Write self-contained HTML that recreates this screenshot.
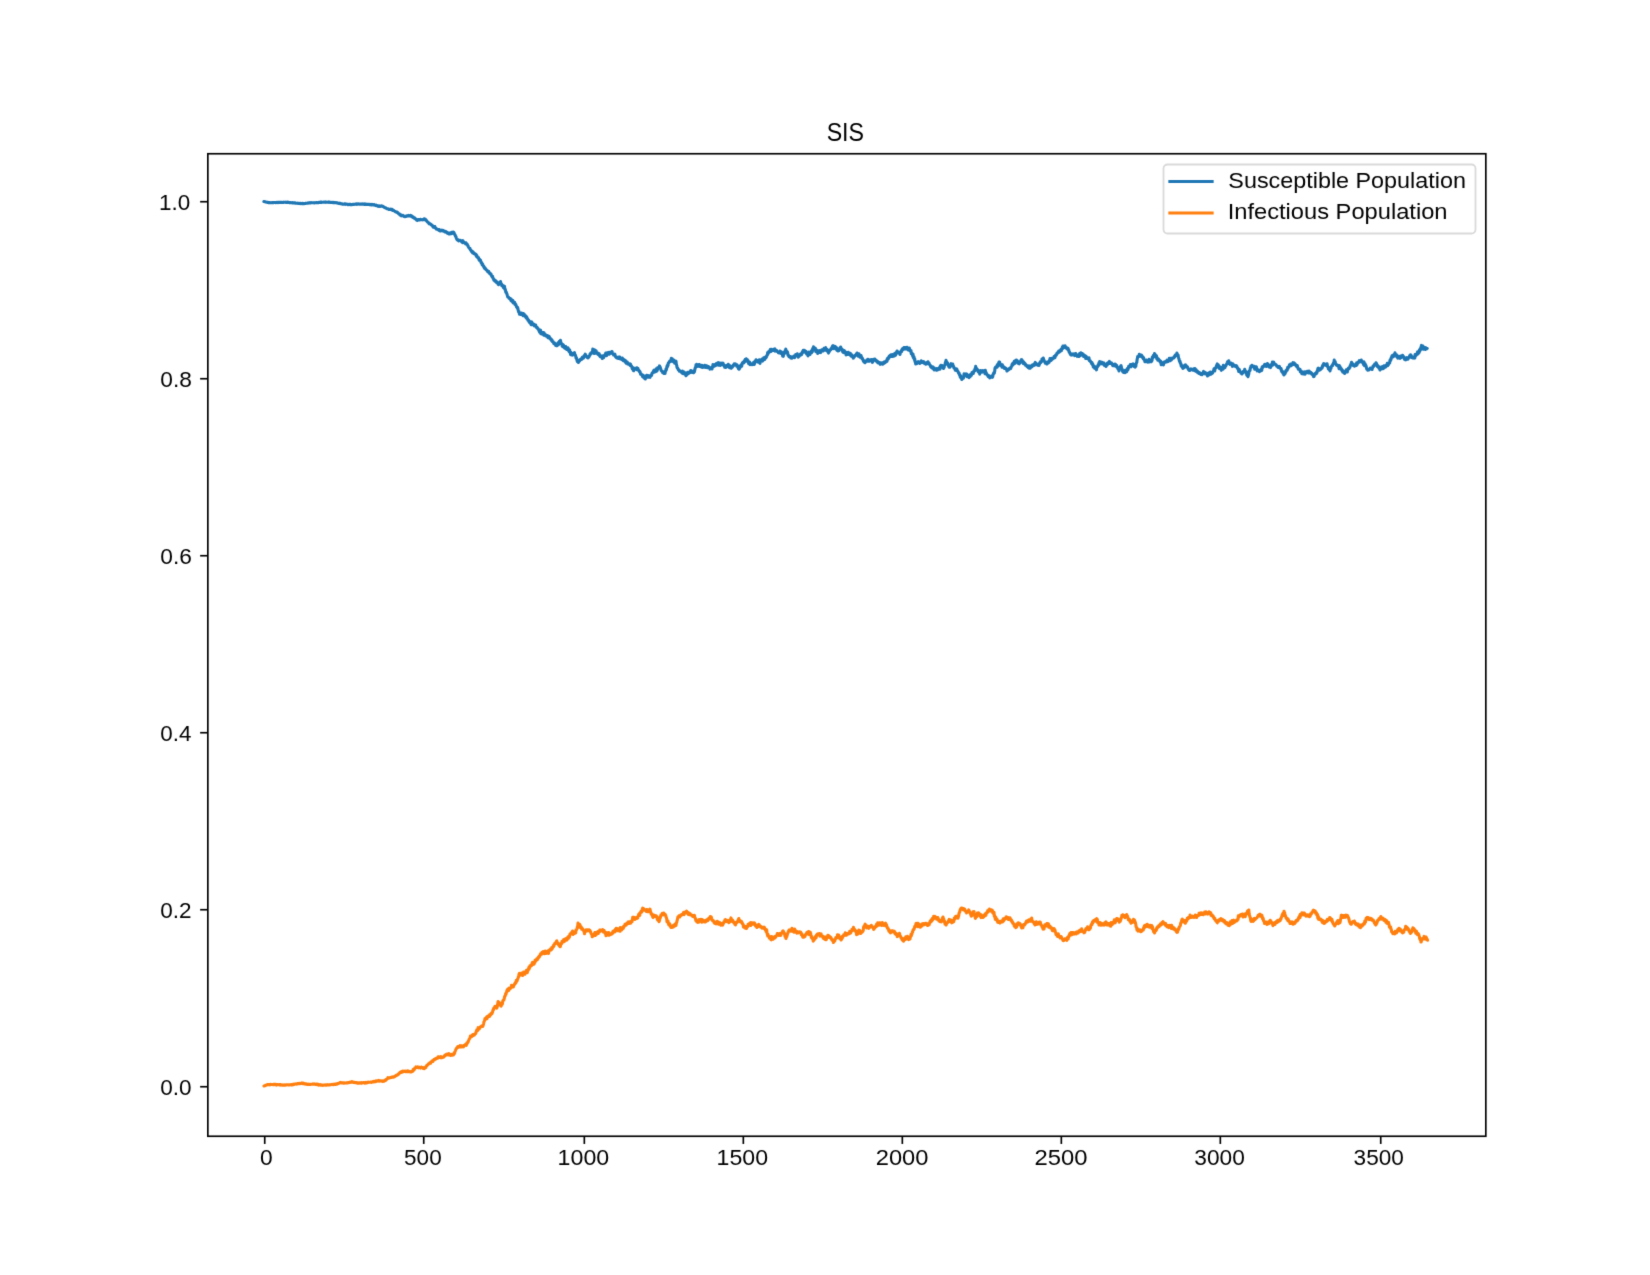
<!DOCTYPE html>
<html><head><meta charset="utf-8"><title>SIS</title>
<style>
html,body{margin:0;padding:0;background:#fff;width:1650px;height:1275px;overflow:hidden}
svg{display:block}
#wrap{will-change:transform;width:1650px;height:1275px}
text{font-family:"Liberation Sans",sans-serif;font-size:22.07px;fill:#000}
</style></head>
<body>
<div id="wrap"><svg width="1650" height="1275" viewBox="0 0 1650 1275">
<defs><filter id="soft" x="0" y="0" width="1650" height="1275" filterUnits="userSpaceOnUse"><feConvolveMatrix color-interpolation-filters="sRGB" order="3" kernelMatrix="0.01134 0.08382 0.01134 0.08382 0.61935 0.08382 0.01134 0.08382 0.01134" edgeMode="duplicate" preserveAlpha="true"/></filter></defs>
<g filter="url(#soft)">
<rect x="0" y="0" width="1650" height="1275" fill="#ffffff"/>
<polyline points="263.9,201.5 264.2,201.6 264.6,201.7 264.9,201.8 265.2,201.8 265.5,201.9 265.9,202.0 266.2,202.1 266.5,202.2 266.8,202.3 267.1,202.3 267.5,202.4 267.8,202.4 268.1,202.4 268.4,202.7 268.8,202.7 269.1,202.8 269.4,202.6 269.7,202.5 270.1,202.6 270.4,202.6 270.7,202.7 271.0,202.7 271.4,202.7 271.7,202.6 272.0,202.7 272.3,202.7 272.7,202.6 273.0,202.8 273.3,202.7 273.6,202.7 274.0,202.5 274.3,202.5 274.6,202.5 274.9,202.5 275.3,202.6 275.6,202.6 275.9,202.5 276.2,202.4 276.6,202.5 276.9,202.6 277.2,202.4 277.5,202.5 277.9,202.5 278.2,202.3 278.5,202.5 278.8,202.6 279.2,202.3 279.5,202.4 279.8,202.4 280.1,202.3 280.5,202.5 280.8,202.4 281.1,202.3 281.4,202.5 281.8,202.4 282.1,202.5 282.4,202.5 282.7,202.4 283.1,202.4 283.4,202.2 283.7,202.4 284.0,202.3 284.4,202.3 284.7,202.2 285.0,202.2 285.3,202.3 285.6,202.4 286.0,202.1 286.3,202.2 286.6,202.3 286.9,202.4 287.3,202.3 287.6,202.1 287.9,202.1 288.2,202.4 288.6,202.3 288.9,202.3 289.2,202.6 289.5,202.6 289.9,202.5 290.2,202.6 290.5,202.6 290.8,202.8 291.2,202.7 291.5,202.7 291.8,202.8 292.1,202.6 292.5,202.9 292.8,202.9 293.1,202.9 293.4,202.7 293.8,202.9 294.1,203.0 294.4,202.8 294.7,203.0 295.1,203.2 295.4,202.9 295.7,203.3 296.0,203.2 296.4,203.2 296.7,203.2 297.0,203.3 297.4,203.3 297.7,203.4 298.0,203.2 298.3,203.3 298.7,203.4 299.0,203.4 299.3,203.3 299.7,203.5 300.0,203.6 300.3,203.4 300.7,203.3 301.0,203.5 301.3,203.5 301.7,203.5 302.0,203.7 302.3,203.4 302.6,203.7 303.0,203.4 303.3,203.5 303.6,203.7 304.0,203.7 304.3,203.6 304.6,203.5 305.0,203.5 305.3,203.4 305.6,203.4 306.0,203.3 306.3,203.3 306.7,203.3 307.0,203.2 307.3,203.2 307.7,203.1 308.0,203.2 308.3,203.0 308.7,202.9 309.0,202.8 309.3,202.8 309.7,202.9 310.0,202.7 310.3,202.8 310.7,202.9 311.0,202.5 311.3,202.6 311.7,202.8 312.0,202.8 312.3,202.8 312.7,202.7 313.0,202.8 313.3,202.8 313.7,202.7 314.0,203.0 314.4,202.8 314.7,202.7 315.0,202.7 315.4,202.7 315.7,202.7 316.0,202.5 316.4,202.7 316.7,202.8 317.0,202.6 317.4,202.6 317.7,202.7 318.0,202.7 318.3,202.7 318.7,202.4 319.0,202.5 319.3,202.4 319.7,202.5 320.0,202.5 320.3,202.1 320.7,202.4 321.0,202.2 321.3,202.4 321.7,202.1 322.0,202.2 322.3,202.3 322.6,202.2 323.0,202.2 323.3,202.2 323.6,202.1 324.0,202.1 324.3,202.2 324.6,202.2 325.0,202.1 325.3,202.3 325.6,202.1 326.0,202.2 326.3,202.1 326.6,202.2 326.9,202.2 327.3,202.2 327.6,202.2 327.9,202.1 328.3,202.1 328.6,202.3 328.9,202.1 329.3,202.1 329.6,202.1 329.9,202.4 330.2,202.3 330.6,202.4 330.9,202.2 331.2,202.3 331.6,202.2 331.9,202.4 332.2,202.5 332.5,202.3 332.8,202.6 333.2,202.5 333.5,202.5 333.8,202.3 334.1,202.7 334.4,202.6 334.8,202.5 335.1,202.7 335.4,202.7 335.7,202.8 336.0,202.6 336.4,202.8 336.7,202.9 337.0,203.0 337.3,202.9 337.6,202.9 338.0,203.2 338.3,203.2 338.6,203.2 338.9,203.4 339.3,203.3 339.6,203.2 339.9,203.4 340.2,203.3 340.5,203.7 340.9,203.7 341.2,203.7 341.5,203.8 341.8,204.0 342.1,203.9 342.5,204.1 342.8,204.0 343.1,204.1 343.4,204.2 343.8,204.3 344.1,204.0 344.4,204.2 344.7,203.9 345.1,204.0 345.4,203.9 345.7,204.3 346.0,204.0 346.4,204.2 346.7,204.2 347.0,204.3 347.3,204.2 347.7,204.4 348.0,204.6 348.3,204.4 348.6,204.5 349.0,204.5 349.3,204.4 349.6,204.3 349.9,204.4 350.3,204.7 350.6,204.3 350.9,204.5 351.2,204.7 351.6,204.6 351.9,204.5 352.2,204.6 352.6,204.5 352.9,204.3 353.2,204.2 353.6,204.3 353.9,204.5 354.2,204.3 354.5,204.2 354.9,204.2 355.2,204.1 355.5,204.2 355.9,204.1 356.2,204.3 356.5,203.9 356.9,204.2 357.2,204.1 357.5,203.9 357.9,204.2 358.2,204.1 358.5,203.8 358.9,204.0 359.2,204.1 359.5,204.0 359.9,204.2 360.2,204.2 360.5,204.2 360.9,204.1 361.2,204.3 361.5,204.2 361.9,204.2 362.2,203.8 362.5,204.2 362.9,204.3 363.2,204.1 363.5,204.0 363.9,204.3 364.2,203.9 364.5,204.2 364.9,204.4 365.2,204.0 365.5,204.3 365.8,204.4 366.2,204.2 366.5,204.3 366.8,204.4 367.1,204.2 367.5,204.3 367.8,204.4 368.1,204.5 368.4,204.4 368.8,204.4 369.1,204.3 369.4,204.4 369.7,204.6 370.1,204.5 370.4,204.4 370.7,204.5 371.0,205.0 371.4,204.8 371.7,204.8 372.0,204.3 372.3,204.8 372.7,204.8 373.0,205.0 373.3,204.9 373.6,204.8 374.0,205.0 374.3,204.7 374.6,205.2 374.9,205.2 375.3,205.1 375.6,205.5 375.9,205.6 376.2,205.2 376.6,205.4 376.9,205.6 377.2,205.7 377.5,205.7 377.9,205.7 378.2,206.3 378.5,206.1 378.8,205.8 379.2,205.8 379.5,206.3 379.8,206.2 380.1,206.4 380.5,206.3 380.8,206.0 381.1,206.2 381.4,205.9 381.8,206.1 382.1,206.3 382.4,206.4 382.7,206.2 383.1,206.5 383.4,206.8 383.7,207.0 384.0,207.2 384.4,207.3 384.7,207.4 385.0,207.7 385.3,207.8 385.6,207.8 386.0,208.0 386.3,208.3 386.6,208.4 386.9,208.7 387.3,208.8 387.6,208.9 387.9,208.9 388.2,208.8 388.6,209.2 388.9,209.4 389.2,209.3 389.5,209.2 389.9,209.4 390.2,209.2 390.5,209.1 390.8,209.5 391.2,209.4 391.5,209.8 391.8,209.5 392.1,209.3 392.5,209.8 392.8,210.5 393.1,210.2 393.4,210.2 393.8,210.5 394.1,210.9 394.4,211.0 394.7,211.1 395.1,211.6 395.4,211.5 395.7,211.5 396.0,211.8 396.4,212.2 396.7,212.3 397.0,212.5 397.3,212.2 397.7,212.7 398.0,213.1 398.3,213.1 398.6,213.7 399.0,213.8 399.3,214.1 399.6,214.0 399.9,215.0 400.3,214.9 400.6,214.7 400.9,215.0 401.2,215.8 401.6,215.2 401.9,215.6 402.2,215.8 402.6,215.6 402.9,215.4 403.2,215.9 403.6,216.1 403.9,216.4 404.2,216.5 404.5,216.4 404.9,216.6 405.2,216.4 405.5,216.3 405.8,216.2 406.2,216.1 406.5,216.3 406.8,215.8 407.1,215.9 407.4,216.0 407.8,215.6 408.1,215.8 408.4,215.4 408.7,215.7 409.1,216.0 409.4,216.0 409.7,215.8 410.0,215.7 410.3,215.3 410.7,216.2 411.0,216.0 411.3,216.4 411.7,216.1 412.0,216.5 412.3,216.3 412.7,217.3 413.0,217.5 413.3,217.0 413.7,217.7 414.0,218.1 414.3,217.7 414.6,217.9 415.0,218.3 415.3,218.7 415.6,218.7 416.0,219.4 416.3,219.6 416.6,220.0 417.0,220.2 417.3,220.5 417.6,220.3 418.0,219.6 418.3,219.8 418.6,219.6 418.9,219.6 419.3,219.9 419.6,219.9 419.9,220.0 420.3,219.4 420.6,219.4 420.9,219.8 421.3,219.7 421.6,219.7 421.9,219.7 422.2,219.5 422.6,219.9 422.9,219.8 423.2,219.6 423.6,219.4 423.9,219.6 424.2,218.8 424.6,219.3 424.9,219.6 425.2,219.1 425.5,219.9 425.9,220.2 426.2,220.1 426.5,220.8 426.8,221.1 427.2,221.6 427.5,222.0 427.8,222.1 428.1,222.2 428.4,222.7 428.8,223.1 429.1,223.7 429.4,223.7 429.8,223.6 430.1,223.7 430.4,224.2 430.8,224.3 431.1,224.4 431.4,225.0 431.8,225.1 432.1,225.5 432.4,225.9 432.8,225.8 433.1,227.0 433.4,226.3 433.8,227.0 434.1,226.9 434.4,227.5 434.8,226.5 435.1,227.3 435.4,227.8 435.8,228.2 436.1,229.0 436.4,228.5 436.8,229.1 437.1,229.2 437.5,229.5 437.8,229.5 438.1,229.5 438.5,230.0 438.8,229.6 439.1,230.5 439.4,229.7 439.8,230.2 440.1,231.0 440.4,230.2 440.7,230.3 441.1,230.8 441.4,230.4 441.7,230.1 442.0,230.6 442.3,230.7 442.7,230.8 443.0,230.3 443.3,231.3 443.6,231.3 444.0,230.9 444.3,231.1 444.6,231.1 444.9,231.9 445.3,231.3 445.6,232.0 445.9,231.7 446.2,231.8 446.5,232.5 446.9,232.9 447.2,232.6 447.5,232.5 447.8,233.3 448.2,233.1 448.5,233.4 448.8,233.9 449.2,233.7 449.5,233.0 449.8,234.0 450.2,233.1 450.5,233.4 450.8,232.8 451.2,233.0 451.5,232.3 451.8,233.6 452.2,233.4 452.5,232.3 452.8,232.2 453.2,232.1 453.5,233.1 453.8,232.5 454.2,233.3 454.5,234.0 454.8,234.8 455.2,235.1 455.5,236.3 455.9,236.4 456.2,237.7 456.5,238.6 456.9,239.4 457.2,239.8 457.5,239.6 457.9,240.1 458.2,239.9 458.5,240.9 458.8,240.6 459.2,240.3 459.5,240.3 459.8,240.2 460.1,240.2 460.4,240.5 460.8,240.9 461.1,241.1 461.4,241.2 461.7,241.9 462.1,240.8 462.4,241.3 462.7,242.7 463.0,240.9 463.4,241.7 463.7,242.2 464.0,242.4 464.3,242.7 464.6,242.7 465.0,243.2 465.3,243.2 465.6,243.8 465.9,242.8 466.3,243.5 466.6,244.1 466.9,243.8 467.2,244.3 467.6,245.6 467.9,245.5 468.3,246.6 468.6,247.2 468.9,247.5 469.3,248.2 469.6,248.4 469.9,248.3 470.3,249.5 470.6,250.2 470.9,250.3 471.3,251.0 471.6,251.7 472.0,251.1 472.3,252.1 472.6,252.9 473.0,252.0 473.3,252.6 473.6,252.7 474.0,253.7 474.3,253.4 474.7,253.9 475.0,253.6 475.3,254.3 475.6,254.7 476.0,254.3 476.3,256.3 476.6,256.4 476.9,255.5 477.3,257.2 477.6,257.2 477.9,257.9 478.2,258.2 478.5,257.7 478.9,258.8 479.2,260.1 479.5,259.4 479.8,259.6 480.2,259.9 480.5,260.3 480.8,261.6 481.1,262.7 481.5,262.4 481.8,263.0 482.1,264.7 482.4,263.9 482.7,264.4 483.1,265.7 483.4,266.4 483.7,266.2 484.0,266.8 484.4,268.2 484.7,268.5 485.0,267.9 485.4,268.8 485.7,268.9 486.0,269.8 486.4,269.8 486.7,270.1 487.0,270.3 487.4,271.3 487.7,271.8 488.0,271.2 488.4,272.1 488.7,271.5 489.0,272.3 489.4,273.0 489.7,273.7 490.0,273.2 490.3,273.9 490.7,274.5 491.0,274.1 491.3,275.5 491.6,275.6 492.0,276.7 492.3,276.4 492.6,276.4 492.9,278.1 493.3,278.7 493.6,278.8 493.9,280.1 494.2,280.0 494.5,280.3 494.9,281.1 495.2,280.2 495.6,280.9 495.9,281.5 496.2,282.3 496.6,281.9 496.9,282.4 497.2,282.0 497.6,282.8 497.9,283.9 498.2,282.7 498.6,284.7 498.9,283.2 499.2,283.4 499.6,283.3 499.9,283.7 500.2,282.2 500.5,281.5 500.8,282.9 501.2,283.6 501.5,284.0 501.8,285.7 502.2,284.8 502.5,285.3 502.8,286.3 503.2,286.4 503.5,287.7 503.8,286.5 504.2,287.5 504.5,286.2 504.8,289.3 505.2,289.1 505.5,290.4 505.8,292.2 506.1,291.9 506.5,292.8 506.8,293.7 507.1,294.6 507.4,295.7 507.8,296.9 508.1,296.8 508.4,297.2 508.8,297.4 509.1,298.4 509.4,298.5 509.8,298.4 510.1,299.3 510.4,299.1 510.8,298.8 511.1,300.8 511.5,300.5 511.8,299.9 512.1,301.5 512.4,301.4 512.8,300.5 513.1,302.9 513.4,302.4 513.7,303.0 514.1,302.9 514.4,303.0 514.7,302.4 515.0,304.4 515.3,304.1 515.7,304.2 516.0,305.4 516.3,305.9 516.6,307.0 517.0,307.1 517.3,308.0 517.6,307.3 517.9,309.2 518.3,310.7 518.6,311.9 518.9,311.4 519.2,312.3 519.5,314.2 519.9,313.0 520.2,313.8 520.5,314.5 520.8,313.5 521.2,314.4 521.5,313.1 521.8,313.8 522.1,313.7 522.5,313.9 522.8,314.7 523.1,315.7 523.4,313.6 523.7,314.1 524.1,315.2 524.4,314.5 524.7,316.0 525.0,316.4 525.4,316.2 525.7,317.2 526.0,316.1 526.3,318.1 526.7,316.9 527.0,317.9 527.3,318.4 527.6,318.8 527.9,320.1 528.3,320.0 528.6,320.0 528.9,321.1 529.2,322.2 529.6,321.5 529.9,322.2 530.2,323.2 530.5,322.8 530.9,321.9 531.2,324.8 531.5,324.8 531.8,322.0 532.2,323.7 532.5,324.2 532.8,324.8 533.1,324.9 533.4,324.4 533.8,324.1 534.1,325.1 534.4,326.0 534.7,324.7 535.1,325.0 535.4,326.1 535.7,325.0 536.0,326.6 536.4,326.9 536.7,327.9 537.0,327.4 537.3,327.6 537.6,328.3 538.0,329.0 538.3,328.9 538.6,329.7 538.9,330.6 539.3,331.3 539.6,332.1 539.9,330.6 540.2,331.3 540.6,330.1 540.9,333.8 541.2,332.2 541.5,333.1 541.8,333.9 542.2,332.6 542.5,334.1 542.8,333.8 543.1,332.6 543.5,334.3 543.8,335.1 544.1,332.9 544.4,335.1 544.8,334.7 545.1,335.1 545.4,335.1 545.7,335.9 546.1,335.0 546.4,336.0 546.7,335.3 547.0,336.4 547.3,335.5 547.7,336.2 548.0,337.8 548.3,337.1 548.6,336.9 549.0,336.3 549.3,336.8 549.6,337.8 549.9,338.6 550.3,338.4 550.6,338.7 550.9,338.8 551.2,340.3 551.5,339.5 551.9,339.9 552.2,341.4 552.5,341.3 552.8,341.5 553.2,341.8 553.5,342.5 553.8,343.5 554.1,343.6 554.5,342.8 554.8,344.3 555.1,344.4 555.4,343.9 555.7,345.5 556.1,345.1 556.4,345.4 556.7,345.8 557.1,345.7 557.4,343.8 557.8,344.2 558.1,342.8 558.4,344.7 558.8,342.2 559.1,343.0 559.4,341.2 559.8,341.9 560.1,343.4 560.5,340.3 560.8,342.4 561.1,343.6 561.5,343.6 561.8,343.7 562.2,346.3 562.5,345.2 562.8,344.4 563.2,346.7 563.5,345.0 563.8,347.4 564.2,346.3 564.5,347.1 564.8,348.2 565.1,347.5 565.4,346.6 565.8,346.6 566.1,349.0 566.4,348.9 566.7,348.0 567.1,349.5 567.4,349.4 567.7,349.7 568.0,347.8 568.4,349.7 568.7,351.0 569.0,351.2 569.3,351.8 569.6,349.7 570.0,352.0 570.3,352.7 570.6,354.6 570.9,352.4 571.3,353.3 571.6,354.0 571.9,355.0 572.2,353.9 572.6,355.1 572.9,353.6 573.2,354.3 573.5,353.7 573.8,354.1 574.2,353.4 574.5,352.7 574.8,354.7 575.1,355.0 575.5,355.3 575.8,356.7 576.1,358.3 576.4,357.7 576.8,359.3 577.1,360.7 577.4,361.6 577.7,361.8 578.1,360.3 578.4,362.5 578.7,361.6 579.0,361.1 579.3,360.7 579.7,360.8 580.0,360.1 580.3,359.4 580.6,359.4 581.0,359.2 581.3,359.0 581.6,358.3 581.9,359.3 582.3,357.4 582.6,358.5 583.0,356.9 583.3,357.5 583.6,357.9 584.0,356.6 584.3,355.5 584.7,355.7 585.0,355.4 585.3,354.2 585.7,355.3 586.0,356.2 586.4,355.9 586.7,356.6 587.0,357.3 587.4,357.6 587.7,357.9 588.1,357.9 588.4,357.5 588.7,357.2 589.1,356.5 589.4,355.9 589.7,355.5 590.1,353.8 590.4,354.3 590.7,354.1 591.1,352.8 591.4,353.0 591.8,352.9 592.1,351.9 592.4,353.0 592.8,349.0 593.1,350.9 593.4,349.9 593.8,352.1 594.1,353.5 594.4,349.8 594.8,351.9 595.1,352.4 595.4,351.9 595.8,352.7 596.1,350.7 596.4,353.2 596.8,353.0 597.1,352.9 597.5,352.9 597.8,354.2 598.2,353.8 598.5,354.7 598.9,354.6 599.2,353.7 599.5,355.8 599.9,356.1 600.2,356.6 600.6,355.6 600.9,356.3 601.2,357.0 601.6,356.8 601.9,357.7 602.3,358.4 602.6,356.4 602.9,355.8 603.3,357.6 603.6,357.7 603.9,357.0 604.2,356.6 604.6,355.2 604.9,354.8 605.2,355.6 605.5,354.0 605.8,353.0 606.2,353.3 606.5,355.6 606.8,354.8 607.1,352.8 607.5,352.8 607.8,353.4 608.1,352.7 608.4,354.2 608.8,353.1 609.1,352.3 609.4,354.1 609.7,352.6 610.1,353.2 610.4,353.0 610.7,352.7 611.0,353.2 611.3,352.4 611.7,351.5 612.0,351.5 612.3,352.5 612.6,353.2 613.0,354.0 613.3,354.4 613.6,355.0 613.9,355.0 614.3,354.6 614.6,355.0 614.9,354.2 615.2,356.0 615.5,356.7 615.9,357.1 616.2,356.9 616.5,357.1 616.8,358.0 617.2,357.3 617.5,357.9 617.8,357.8 618.1,357.6 618.5,358.5 618.8,357.1 619.1,357.3 619.4,357.0 619.7,357.0 620.1,358.9 620.4,359.0 620.7,358.0 621.0,358.6 621.4,359.3 621.7,359.2 622.0,359.7 622.3,358.1 622.7,358.8 623.0,359.8 623.3,360.7 623.6,360.0 623.9,359.5 624.3,360.0 624.6,360.0 624.9,360.1 625.2,362.1 625.6,360.7 625.9,361.4 626.2,363.2 626.5,362.7 626.9,362.3 627.2,361.9 627.5,362.9 627.8,364.0 628.2,363.5 628.5,364.2 628.8,363.6 629.1,364.2 629.4,363.9 629.8,364.6 630.1,365.5 630.4,363.9 630.7,365.4 631.1,366.0 631.4,365.9 631.7,366.5 632.0,367.8 632.4,369.1 632.7,368.5 633.0,368.8 633.3,367.8 633.6,370.8 634.0,369.9 634.3,369.7 634.6,368.7 634.9,369.3 635.3,368.4 635.6,369.1 635.9,369.2 636.2,368.7 636.6,368.8 636.9,367.8 637.2,369.9 637.6,368.8 637.9,368.3 638.2,370.0 638.6,370.0 638.9,370.3 639.3,371.2 639.6,372.1 639.9,371.4 640.3,372.7 640.6,374.3 641.0,374.2 641.3,374.1 641.6,374.8 642.0,375.1 642.3,375.6 642.6,376.7 643.0,376.6 643.3,375.3 643.7,377.6 644.0,376.9 644.3,378.0 644.6,377.0 645.0,377.5 645.3,379.0 645.6,376.5 645.9,376.4 646.3,376.1 646.6,375.3 646.9,375.7 647.2,377.3 647.5,376.5 647.9,375.5 648.2,375.7 648.5,377.3 648.8,376.2 649.2,376.4 649.5,376.9 649.8,377.2 650.1,377.3 650.5,376.2 650.8,375.1 651.1,374.8 651.4,375.6 651.7,374.9 652.1,373.2 652.4,373.3 652.7,372.8 653.0,372.2 653.4,371.4 653.7,370.6 654.0,371.1 654.3,370.1 654.7,372.1 655.0,371.4 655.3,369.9 655.6,371.7 655.9,371.2 656.3,368.9 656.6,371.3 656.9,370.1 657.2,370.6 657.6,367.7 657.9,368.6 658.2,368.1 658.5,367.5 658.9,367.0 659.2,367.2 659.5,365.9 659.8,366.7 660.2,367.2 660.5,368.4 660.8,369.0 661.1,370.3 661.4,370.8 661.8,371.2 662.1,371.3 662.4,371.5 662.7,372.7 663.1,372.6 663.4,372.2 663.7,371.9 664.0,373.4 664.4,371.9 664.7,372.9 665.0,373.4 665.3,371.4 665.7,371.4 666.0,369.0 666.3,369.8 666.7,368.3 667.0,366.1 667.3,366.9 667.7,364.8 668.0,365.6 668.3,363.2 668.7,362.8 669.0,362.2 669.3,361.5 669.7,361.8 670.0,360.9 670.3,361.6 670.7,360.9 671.0,360.8 671.3,358.4 671.7,361.1 672.0,360.0 672.3,358.8 672.7,360.4 673.0,360.9 673.3,361.5 673.7,360.0 674.0,362.2 674.3,361.0 674.7,363.1 675.0,361.4 675.3,362.2 675.7,361.6 676.0,361.2 676.3,364.2 676.7,365.3 677.0,367.2 677.3,368.0 677.7,368.2 678.0,368.8 678.3,369.7 678.7,369.8 679.0,369.9 679.3,371.1 679.7,371.1 680.0,370.8 680.3,371.3 680.7,371.2 681.0,371.7 681.3,372.2 681.7,372.6 682.0,371.5 682.3,371.1 682.7,373.5 683.0,372.7 683.3,373.7 683.7,371.8 684.0,373.0 684.3,373.5 684.7,372.6 685.0,373.5 685.3,374.6 685.7,375.1 686.0,375.7 686.3,373.6 686.7,373.0 687.0,374.3 687.3,374.4 687.7,373.6 688.0,372.3 688.3,373.6 688.7,373.4 689.0,373.0 689.3,372.1 689.7,372.4 690.0,372.6 690.3,371.5 690.7,370.5 691.0,372.1 691.3,372.2 691.7,371.8 692.0,372.4 692.3,371.3 692.7,371.6 693.0,371.4 693.3,372.0 693.7,372.7 694.0,371.3 694.3,372.0 694.7,370.5 695.0,368.8 695.3,367.6 695.7,367.4 696.0,364.9 696.3,365.0 696.7,364.3 697.0,365.6 697.3,366.3 697.7,365.7 698.0,365.7 698.3,365.3 698.7,365.7 699.0,364.5 699.3,366.5 699.7,365.4 700.0,365.0 700.3,365.3 700.7,365.3 701.0,366.6 701.3,367.0 701.7,365.3 702.0,367.2 702.3,367.3 702.7,366.4 703.0,365.9 703.3,366.4 703.7,366.4 704.0,367.1 704.3,366.6 704.7,365.3 705.0,366.9 705.3,365.6 705.7,367.3 706.0,365.7 706.3,366.1 706.7,365.9 707.0,366.1 707.3,367.7 707.7,367.6 708.0,367.7 708.3,367.7 708.7,366.6 709.0,367.6 709.3,367.8 709.7,367.8 710.0,369.1 710.3,368.4 710.7,368.7 711.0,368.7 711.3,367.5 711.7,368.9 712.0,369.0 712.3,367.6 712.7,366.3 713.0,364.5 713.3,366.1 713.7,366.4 714.0,365.2 714.3,365.6 714.7,366.0 715.0,365.7 715.3,364.4 715.7,365.5 716.0,365.2 716.3,363.5 716.7,364.3 717.0,363.4 717.3,364.4 717.7,364.8 718.0,363.5 718.3,362.7 718.7,365.2 719.0,364.4 719.3,365.2 719.7,363.1 720.0,364.8 720.3,365.4 720.7,365.2 721.0,363.3 721.3,363.5 721.7,363.1 722.0,363.7 722.3,364.2 722.7,363.8 723.0,363.1 723.3,365.1 723.7,364.6 724.0,365.8 724.3,365.9 724.7,367.3 725.0,367.4 725.3,366.0 725.7,366.5 726.0,367.4 726.3,365.6 726.7,366.2 727.0,366.6 727.3,366.6 727.7,365.9 728.0,364.4 728.3,364.3 728.7,365.3 729.0,365.3 729.3,367.5 729.7,365.5 730.0,367.6 730.3,367.9 730.7,366.7 731.0,367.9 731.3,368.2 731.7,367.3 732.0,367.1 732.3,367.2 732.7,365.8 733.0,366.3 733.3,365.1 733.7,364.8 734.0,365.2 734.3,363.9 734.7,364.1 735.0,364.7 735.3,363.9 735.7,364.1 736.0,365.2 736.3,364.7 736.7,366.2 737.0,364.8 737.3,366.6 737.7,366.1 738.0,366.3 738.3,368.6 738.7,367.0 739.0,369.3 739.3,368.0 739.7,368.2 740.0,365.9 740.3,367.1 740.7,366.8 741.0,365.2 741.3,364.7 741.7,366.2 742.0,364.0 742.3,363.1 742.7,362.5 743.0,362.8 743.3,362.4 743.7,362.0 744.0,362.8 744.3,360.9 744.7,361.2 745.0,361.6 745.3,359.4 745.7,360.6 746.0,360.9 746.3,358.9 746.7,359.4 747.0,359.8 747.3,359.6 747.7,361.7 748.0,360.4 748.3,362.5 748.7,363.6 749.0,361.7 749.3,363.0 749.7,362.2 750.0,364.6 750.3,363.5 750.7,363.9 751.0,364.2 751.3,364.6 751.7,364.0 752.0,364.3 752.3,364.0 752.7,364.5 753.0,363.6 753.3,364.2 753.7,362.3 754.0,363.0 754.3,364.4 754.7,362.6 755.0,361.2 755.3,362.0 755.7,360.7 756.0,359.8 756.3,360.5 756.7,361.6 757.0,361.4 757.3,361.1 757.7,360.5 758.0,360.4 758.3,362.3 758.7,361.5 759.0,360.7 759.3,359.8 759.7,360.4 760.0,363.4 760.3,360.4 760.7,361.0 761.0,361.0 761.3,360.5 761.7,360.2 762.0,359.2 762.3,359.3 762.7,361.1 763.0,359.1 763.3,360.1 763.7,357.9 764.0,358.8 764.3,358.9 764.7,359.3 765.0,357.4 765.3,358.4 765.7,358.0 766.0,356.9 766.3,357.3 766.7,355.7 767.0,355.2 767.3,355.2 767.7,352.5 768.0,353.9 768.3,352.7 768.7,351.7 769.0,351.9 769.3,352.2 769.7,350.8 770.0,351.4 770.3,349.5 770.7,349.3 771.0,351.4 771.3,350.5 771.7,350.8 772.0,349.4 772.3,350.5 772.7,350.0 773.0,350.2 773.3,349.7 773.7,350.5 774.0,349.0 774.3,349.0 774.7,348.9 775.0,351.1 775.3,349.9 775.7,350.0 776.0,350.3 776.3,350.9 776.7,350.5 777.0,351.5 777.3,351.5 777.7,351.8 778.0,351.8 778.3,352.6 778.7,352.2 779.0,352.7 779.3,352.9 779.7,353.0 780.0,351.1 780.3,352.4 780.7,352.2 781.0,353.5 781.3,351.7 781.7,352.4 782.0,352.8 782.3,353.9 782.7,356.1 783.0,356.2 783.3,356.3 783.6,353.7 783.9,352.5 784.2,353.9 784.6,352.5 784.9,351.6 785.2,350.5 785.5,349.9 785.8,349.2 786.1,351.5 786.5,351.0 786.8,352.8 787.1,352.7 787.4,351.8 787.7,353.0 788.0,355.4 788.4,355.1 788.7,355.6 789.0,356.7 789.3,356.2 789.7,356.2 790.0,356.7 790.3,356.8 790.7,357.8 791.0,356.8 791.3,358.2 791.7,358.2 792.0,358.2 792.3,357.7 792.7,357.1 793.0,357.1 793.3,356.8 793.7,356.2 794.0,356.6 794.3,356.0 794.7,357.6 795.0,356.7 795.3,355.8 795.7,354.6 796.0,355.8 796.3,355.4 796.7,354.8 797.0,354.6 797.3,353.8 797.7,355.8 798.0,355.3 798.3,357.2 798.7,355.2 799.0,355.1 799.3,356.2 799.7,355.2 800.0,355.1 800.3,354.3 800.7,353.8 801.0,355.0 801.3,354.3 801.7,354.4 802.0,352.5 802.3,352.4 802.7,351.3 803.0,352.4 803.3,350.2 803.7,351.3 804.0,351.3 804.3,351.9 804.7,350.4 805.0,352.2 805.3,351.1 805.7,351.4 806.0,351.3 806.3,353.4 806.7,354.1 807.0,352.7 807.3,352.8 807.7,353.5 808.0,355.9 808.3,354.6 808.7,353.3 809.0,352.2 809.3,352.8 809.7,354.1 810.0,354.4 810.3,352.6 810.7,352.1 811.0,352.1 811.3,350.9 811.7,352.8 812.0,351.2 812.3,351.9 812.6,348.9 812.9,348.3 813.2,348.6 813.5,346.9 813.8,348.5 814.1,348.3 814.5,347.8 814.8,349.5 815.1,350.1 815.4,348.4 815.8,351.6 816.1,351.0 816.4,351.6 816.7,350.0 817.0,351.3 817.4,352.0 817.7,353.4 818.0,351.9 818.3,352.1 818.7,351.1 819.0,352.2 819.3,352.4 819.7,350.7 820.0,351.3 820.3,351.9 820.7,352.5 821.0,351.6 821.3,350.7 821.7,349.8 822.0,349.8 822.3,349.8 822.7,350.2 823.0,349.8 823.3,350.9 823.7,349.6 824.0,348.4 824.3,350.1 824.7,349.4 825.0,348.6 825.3,348.3 825.6,347.7 826.0,348.7 826.3,350.5 826.6,349.5 826.9,349.4 827.2,350.9 827.5,351.2 827.9,351.8 828.2,352.2 828.5,353.1 828.8,350.9 829.1,351.9 829.5,350.0 829.8,350.8 830.1,350.0 830.4,349.6 830.8,349.7 831.1,348.6 831.4,349.0 831.7,348.4 832.0,347.4 832.4,346.4 832.7,345.9 833.0,345.6 833.3,346.0 833.7,346.3 834.0,348.7 834.3,347.1 834.7,347.4 835.0,346.4 835.3,346.6 835.7,347.1 836.0,347.6 836.3,347.3 836.7,349.9 837.0,348.8 837.3,350.6 837.7,348.7 838.0,351.0 838.3,350.9 838.7,350.6 839.0,350.6 839.3,350.1 839.7,349.7 840.0,347.9 840.3,348.5 840.7,347.0 841.0,349.0 841.3,349.1 841.7,349.1 842.0,349.1 842.3,349.6 842.7,351.8 843.0,352.1 843.3,351.2 843.7,352.6 844.0,350.8 844.3,350.6 844.7,351.8 845.0,351.6 845.3,352.0 845.7,352.6 846.0,354.9 846.3,352.2 846.7,352.8 847.0,353.1 847.3,353.0 847.7,353.8 848.0,354.5 848.3,352.4 848.7,353.5 849.0,353.3 849.3,354.1 849.7,353.1 850.0,353.3 850.3,353.3 850.7,355.8 851.0,355.9 851.3,356.2 851.7,354.7 852.0,356.6 852.3,356.7 852.7,356.6 853.0,357.3 853.3,358.1 853.7,357.7 854.0,356.9 854.3,356.9 854.7,355.7 855.0,355.8 855.3,355.4 855.7,355.4 856.0,354.6 856.3,354.1 856.7,353.8 857.0,353.0 857.3,355.4 857.7,354.4 858.0,354.6 858.3,356.2 858.7,355.8 859.0,353.8 859.3,355.8 859.7,356.1 860.0,357.2 860.3,357.0 860.7,356.8 861.0,355.6 861.3,356.5 861.7,357.9 862.0,358.7 862.3,358.2 862.7,359.3 863.0,359.9 863.3,360.8 863.7,361.6 864.0,361.8 864.3,360.9 864.7,362.6 865.0,362.7 865.3,361.3 865.7,361.9 866.0,361.3 866.3,361.3 866.7,361.0 867.0,359.9 867.3,360.8 867.7,360.9 868.0,359.3 868.3,361.3 868.7,361.2 869.0,360.9 869.3,361.2 869.7,360.4 870.0,359.7 870.3,359.7 870.7,359.7 871.0,360.6 871.3,360.6 871.7,361.3 872.0,359.5 872.3,362.4 872.7,362.0 873.0,360.0 873.3,360.2 873.7,359.7 874.0,359.2 874.3,359.1 874.6,359.5 875.0,359.2 875.3,360.2 875.6,360.3 875.9,360.9 876.2,360.3 876.5,361.2 876.9,361.5 877.2,362.2 877.5,361.2 877.8,362.5 878.1,363.0 878.5,362.9 878.8,362.3 879.1,362.3 879.4,362.7 879.8,363.5 880.1,364.3 880.4,363.2 880.7,362.9 881.0,363.9 881.4,363.9 881.7,363.2 882.0,363.4 882.3,363.8 882.7,364.2 883.0,362.6 883.3,362.6 883.7,363.5 884.0,362.1 884.3,362.9 884.7,362.9 885.0,362.4 885.3,361.6 885.7,362.1 886.0,361.8 886.3,361.7 886.7,360.3 887.0,361.2 887.3,358.6 887.7,359.2 888.0,358.8 888.3,358.9 888.7,357.2 889.0,357.5 889.3,356.2 889.7,356.6 890.0,356.8 890.3,355.2 890.7,355.8 891.0,354.8 891.3,356.2 891.7,356.4 892.0,355.5 892.3,354.6 892.7,355.8 893.0,356.4 893.3,356.3 893.7,356.1 894.0,354.1 894.3,354.6 894.7,355.8 895.0,353.4 895.3,354.8 895.7,355.0 896.0,353.7 896.3,353.6 896.7,352.1 897.0,351.1 897.3,352.0 897.7,352.1 898.0,352.3 898.3,353.0 898.7,352.4 899.0,352.8 899.3,353.1 899.7,352.9 900.0,354.4 900.3,352.8 900.7,352.1 901.0,351.3 901.3,350.5 901.7,351.5 902.0,350.1 902.3,348.7 902.7,348.6 903.0,348.4 903.3,348.2 903.7,349.3 904.0,347.6 904.3,348.9 904.7,348.6 905.0,347.6 905.3,348.5 905.7,348.4 906.0,348.9 906.3,348.2 906.7,348.7 907.0,347.3 907.3,347.9 907.7,349.4 908.0,349.8 908.3,349.2 908.7,348.9 909.0,350.3 909.3,348.1 909.7,349.2 910.0,350.5 910.3,351.2 910.7,350.6 911.0,350.6 911.3,353.8 911.7,353.4 912.0,353.3 912.3,354.7 912.7,356.0 913.0,354.1 913.3,357.6 913.7,358.1 914.0,356.8 914.3,359.7 914.7,358.6 915.0,361.5 915.3,361.7 915.7,363.9 916.0,362.5 916.3,362.9 916.7,363.7 917.0,362.3 917.3,362.2 917.7,362.4 918.0,362.5 918.3,361.7 918.7,362.8 919.0,362.8 919.3,362.4 919.7,363.5 920.0,362.0 920.3,363.1 920.7,361.7 921.0,362.6 921.3,360.7 921.7,362.5 922.0,362.4 922.3,362.3 922.7,362.4 923.0,362.7 923.3,362.6 923.7,361.7 924.0,363.1 924.3,363.3 924.7,363.4 925.0,363.2 925.3,363.7 925.7,364.1 926.0,363.1 926.3,362.7 926.7,363.9 927.0,363.4 927.3,363.1 927.7,363.1 928.0,361.8 928.3,362.4 928.7,363.8 929.0,363.1 929.3,363.9 929.7,364.8 930.0,365.3 930.3,365.3 930.7,366.7 931.0,366.4 931.3,367.3 931.7,367.8 932.0,367.7 932.3,368.1 932.7,366.9 933.0,367.0 933.3,367.8 933.7,368.9 934.0,369.9 934.3,368.1 934.7,369.5 935.0,368.9 935.3,368.9 935.7,369.2 936.0,369.9 936.3,369.5 936.7,370.2 937.0,368.5 937.3,369.9 937.7,369.9 938.0,369.2 938.3,369.4 938.7,368.6 939.0,368.2 939.3,368.0 939.7,367.2 940.0,369.2 940.3,366.0 940.7,366.9 941.0,365.2 941.3,365.6 941.6,366.3 941.9,365.5 942.2,367.2 942.6,367.2 942.9,366.1 943.2,368.1 943.5,368.4 943.8,367.5 944.1,367.6 944.4,365.3 944.8,365.1 945.1,364.5 945.4,362.4 945.7,363.2 946.0,360.4 946.3,361.1 946.6,363.0 947.0,362.3 947.3,363.6 947.6,363.0 947.9,364.8 948.2,364.5 948.5,366.1 948.9,365.3 949.2,367.3 949.5,367.3 949.8,367.2 950.1,366.7 950.4,366.5 950.8,365.0 951.1,363.7 951.4,365.3 951.7,364.2 952.0,364.2 952.3,365.4 952.7,364.1 953.0,365.6 953.3,366.3 953.7,366.5 954.0,368.1 954.3,368.3 954.7,368.3 955.0,368.8 955.3,370.3 955.7,369.3 956.0,370.4 956.3,370.5 956.7,368.9 957.0,369.7 957.3,370.7 957.7,371.1 958.0,371.6 958.3,372.3 958.6,373.2 959.0,372.9 959.3,373.8 959.6,375.2 959.9,375.0 960.2,376.9 960.5,375.6 960.9,378.0 961.2,378.1 961.5,377.5 961.8,379.4 962.1,378.6 962.5,378.1 962.8,376.9 963.1,377.0 963.4,378.2 963.8,376.1 964.1,373.8 964.4,375.5 964.7,374.9 965.0,375.4 965.4,374.8 965.7,374.1 966.0,373.9 966.3,375.6 966.7,374.0 967.0,376.8 967.3,375.2 967.7,375.1 968.0,376.8 968.3,376.9 968.7,375.9 969.0,377.6 969.3,375.3 969.7,375.6 970.0,376.8 970.3,375.5 970.7,374.4 971.0,375.4 971.3,375.4 971.7,374.3 972.0,372.6 972.3,373.2 972.7,373.3 973.0,373.1 973.3,373.4 973.7,371.3 974.0,370.6 974.3,370.5 974.7,370.9 975.0,368.8 975.3,370.0 975.7,366.4 976.0,368.6 976.3,368.0 976.7,369.3 977.0,370.0 977.3,369.1 977.7,370.4 978.0,371.2 978.3,371.9 978.7,371.3 979.0,371.8 979.3,370.9 979.7,374.1 980.0,371.9 980.3,371.7 980.7,370.5 981.0,372.2 981.3,370.9 981.7,372.2 982.0,371.6 982.3,371.2 982.7,371.9 983.0,370.7 983.3,371.4 983.7,371.4 984.0,371.0 984.3,372.2 984.7,372.2 985.0,373.6 985.3,370.2 985.7,372.3 986.0,372.3 986.3,373.1 986.6,374.2 987.0,374.7 987.3,374.8 987.6,374.9 987.9,376.1 988.2,376.5 988.5,375.3 988.9,376.9 989.2,376.5 989.5,377.1 989.8,377.9 990.1,377.6 990.5,377.4 990.8,376.4 991.1,376.7 991.4,376.0 991.7,376.7 992.0,376.7 992.4,377.3 992.7,376.7 993.0,374.9 993.3,374.2 993.7,372.9 994.0,372.9 994.3,373.2 994.7,371.3 995.0,368.2 995.3,367.9 995.7,367.0 996.0,367.4 996.3,366.6 996.7,366.4 997.0,367.2 997.3,364.8 997.7,364.4 998.0,366.1 998.3,364.5 998.7,363.3 999.0,362.0 999.3,362.6 999.7,362.2 1000.0,364.3 1000.3,364.5 1000.7,365.5 1001.0,364.9 1001.3,364.7 1001.7,364.9 1002.0,367.2 1002.3,364.7 1002.7,366.4 1003.0,366.5 1003.3,367.3 1003.7,366.8 1004.0,367.7 1004.3,368.3 1004.7,367.8 1005.0,367.9 1005.3,368.4 1005.7,368.1 1006.0,369.0 1006.3,369.2 1006.7,369.9 1007.0,371.0 1007.3,370.8 1007.7,369.3 1008.0,370.0 1008.3,369.6 1008.7,369.7 1009.0,369.0 1009.3,369.0 1009.7,368.3 1010.0,367.9 1010.3,368.7 1010.7,368.5 1011.0,367.5 1011.3,366.8 1011.7,366.2 1012.0,365.2 1012.3,363.7 1012.7,365.0 1013.0,364.1 1013.3,363.2 1013.6,362.5 1014.0,363.9 1014.3,361.2 1014.6,363.5 1014.9,362.3 1015.2,363.2 1015.5,360.6 1015.9,360.7 1016.2,360.0 1016.5,360.1 1016.8,360.3 1017.1,360.4 1017.4,362.3 1017.8,361.4 1018.1,362.1 1018.4,363.4 1018.7,363.1 1019.0,363.7 1019.3,363.8 1019.6,362.7 1019.9,361.6 1020.2,361.9 1020.6,361.3 1020.9,362.3 1021.2,359.7 1021.5,360.7 1021.8,359.8 1022.1,360.4 1022.5,360.8 1022.8,361.6 1023.1,362.4 1023.4,363.5 1023.8,362.0 1024.1,363.9 1024.4,364.0 1024.7,364.2 1025.0,363.4 1025.4,365.0 1025.7,364.6 1026.0,365.3 1026.3,365.0 1026.7,365.9 1027.0,366.5 1027.3,366.7 1027.7,366.0 1028.0,367.1 1028.3,367.6 1028.7,366.1 1029.0,368.1 1029.3,366.0 1029.7,367.4 1030.0,367.4 1030.3,368.1 1030.7,367.2 1031.0,366.6 1031.3,366.1 1031.7,365.5 1032.0,366.7 1032.3,365.7 1032.7,365.0 1033.0,365.6 1033.3,364.4 1033.7,364.3 1034.0,364.0 1034.3,365.3 1034.7,364.9 1035.0,363.4 1035.3,362.4 1035.7,364.0 1036.0,363.9 1036.3,364.3 1036.7,364.5 1037.0,364.0 1037.3,365.1 1037.7,365.1 1038.0,364.8 1038.3,364.4 1038.7,364.5 1039.0,365.5 1039.3,363.6 1039.7,363.8 1040.0,362.8 1040.3,361.8 1040.7,362.7 1041.0,361.7 1041.3,361.2 1041.7,361.3 1042.0,359.0 1042.3,359.5 1042.7,359.3 1043.0,359.1 1043.3,358.1 1043.7,360.0 1044.0,360.0 1044.3,361.4 1044.7,361.6 1045.0,361.7 1045.3,363.3 1045.7,362.2 1046.0,362.3 1046.3,362.8 1046.7,362.8 1047.0,364.0 1047.3,362.1 1047.7,363.0 1048.0,363.0 1048.3,363.0 1048.7,361.5 1049.0,362.4 1049.3,360.4 1049.7,360.3 1050.0,358.6 1050.3,359.3 1050.7,359.1 1051.0,360.6 1051.3,359.7 1051.7,358.4 1052.0,359.4 1052.3,359.2 1052.7,358.5 1053.0,358.5 1053.3,358.1 1053.7,357.8 1054.0,356.7 1054.3,357.4 1054.7,357.9 1055.0,357.5 1055.3,355.8 1055.7,355.0 1056.0,354.8 1056.3,355.2 1056.7,354.3 1057.0,353.1 1057.3,353.5 1057.7,352.8 1058.0,353.0 1058.3,352.1 1058.7,351.0 1059.0,351.9 1059.3,352.1 1059.7,350.5 1060.0,350.9 1060.3,351.2 1060.6,349.9 1061.0,349.3 1061.3,350.8 1061.6,349.6 1061.9,349.3 1062.2,347.4 1062.5,348.9 1062.9,346.1 1063.2,346.5 1063.5,347.0 1063.8,347.6 1064.1,346.1 1064.5,346.4 1064.8,347.2 1065.1,345.8 1065.4,347.8 1065.8,347.9 1066.1,347.3 1066.4,348.2 1066.7,348.5 1067.0,348.3 1067.4,348.6 1067.7,349.5 1068.0,348.2 1068.3,349.5 1068.7,349.8 1069.0,351.8 1069.3,351.5 1069.7,353.0 1070.0,353.6 1070.3,353.6 1070.7,354.9 1071.0,353.7 1071.3,354.9 1071.7,354.5 1072.0,355.0 1072.3,354.0 1072.7,354.8 1073.0,354.8 1073.3,353.9 1073.7,354.6 1074.0,354.4 1074.3,354.5 1074.7,355.6 1075.0,354.2 1075.3,353.5 1075.7,353.6 1076.0,354.6 1076.3,354.5 1076.7,355.0 1077.0,355.5 1077.3,356.4 1077.7,355.5 1078.0,355.6 1078.3,354.8 1078.7,355.9 1079.0,356.5 1079.3,356.2 1079.6,353.6 1079.9,355.4 1080.2,355.6 1080.6,354.8 1080.9,352.9 1081.2,353.5 1081.5,353.9 1081.8,354.1 1082.1,353.5 1082.4,353.8 1082.8,355.4 1083.1,354.1 1083.4,356.4 1083.7,355.7 1084.0,356.2 1084.3,355.2 1084.7,356.0 1085.0,357.1 1085.3,355.8 1085.7,358.5 1086.0,356.2 1086.3,356.6 1086.7,357.7 1087.0,358.2 1087.3,358.6 1087.7,358.0 1088.0,358.4 1088.3,358.7 1088.7,358.9 1089.0,357.8 1089.3,360.7 1089.7,360.6 1090.0,360.9 1090.3,360.8 1090.7,361.8 1091.0,362.0 1091.3,362.5 1091.7,363.9 1092.0,362.4 1092.3,364.4 1092.7,364.0 1093.0,365.1 1093.3,367.0 1093.7,365.7 1094.0,366.9 1094.3,366.8 1094.6,368.2 1094.9,367.0 1095.2,366.8 1095.6,368.6 1095.9,368.2 1096.2,368.5 1096.5,369.8 1096.8,367.6 1097.1,367.2 1097.4,366.9 1097.8,366.3 1098.1,364.9 1098.4,365.2 1098.7,365.4 1099.0,362.7 1099.3,364.3 1099.7,361.5 1100.0,364.0 1100.3,362.8 1100.7,363.1 1101.0,362.8 1101.3,362.5 1101.7,362.1 1102.0,362.7 1102.3,363.9 1102.7,363.8 1103.0,362.7 1103.3,362.9 1103.7,363.1 1104.0,363.0 1104.3,365.4 1104.7,364.9 1105.0,364.8 1105.3,364.6 1105.7,364.5 1106.0,366.4 1106.3,365.7 1106.6,364.2 1107.0,365.3 1107.3,363.4 1107.6,364.4 1107.9,362.9 1108.2,363.0 1108.5,363.3 1108.9,362.9 1109.2,363.0 1109.5,361.4 1109.8,363.4 1110.1,363.5 1110.5,362.8 1110.8,363.4 1111.1,362.8 1111.4,363.5 1111.7,363.0 1112.0,364.2 1112.4,364.6 1112.7,365.7 1113.0,365.7 1113.3,365.7 1113.7,364.9 1114.0,365.1 1114.3,365.1 1114.7,365.6 1115.0,364.1 1115.3,366.1 1115.7,364.5 1116.0,365.4 1116.3,365.8 1116.7,365.5 1117.0,367.2 1117.3,366.6 1117.7,368.5 1118.0,368.8 1118.3,368.3 1118.7,369.6 1119.0,370.9 1119.3,369.0 1119.7,368.6 1120.0,367.3 1120.3,367.0 1120.7,366.0 1121.0,365.6 1121.3,367.3 1121.7,368.7 1122.0,368.8 1122.3,370.0 1122.7,371.5 1123.0,371.8 1123.3,371.1 1123.7,372.5 1124.0,371.0 1124.3,372.2 1124.7,370.7 1125.0,372.6 1125.3,370.4 1125.7,371.6 1126.0,372.0 1126.3,370.1 1126.7,371.7 1127.0,369.9 1127.3,368.7 1127.7,370.0 1128.0,369.5 1128.3,368.4 1128.7,366.2 1129.0,367.5 1129.3,366.8 1129.7,366.2 1130.0,365.8 1130.3,364.5 1130.7,365.3 1131.0,366.8 1131.3,366.4 1131.7,364.9 1132.0,364.5 1132.3,365.1 1132.7,365.4 1133.0,365.0 1133.3,363.9 1133.6,365.1 1133.9,365.4 1134.2,366.5 1134.6,366.6 1134.9,366.4 1135.2,367.1 1135.5,366.2 1135.8,366.4 1136.1,363.7 1136.4,363.0 1136.8,362.2 1137.1,359.6 1137.4,358.5 1137.7,356.5 1138.0,356.6 1138.3,356.3 1138.7,355.9 1139.0,356.4 1139.3,354.3 1139.7,355.6 1140.0,355.6 1140.3,355.1 1140.7,355.7 1141.0,356.3 1141.3,355.1 1141.6,355.2 1142.0,355.9 1142.3,356.8 1142.6,357.6 1142.9,357.0 1143.2,358.7 1143.6,357.7 1143.9,359.5 1144.2,359.6 1144.5,360.0 1144.9,361.7 1145.2,360.4 1145.5,360.9 1145.8,361.4 1146.1,361.7 1146.5,360.1 1146.8,361.3 1147.1,360.6 1147.4,361.6 1147.8,362.2 1148.1,361.3 1148.4,361.2 1148.7,361.4 1149.1,359.2 1149.4,361.9 1149.7,361.8 1150.0,361.5 1150.4,361.2 1150.7,360.9 1151.0,361.4 1151.3,361.7 1151.6,360.2 1152.0,360.6 1152.3,357.1 1152.6,358.0 1152.9,357.9 1153.2,357.0 1153.5,355.2 1153.9,355.3 1154.2,356.0 1154.5,353.6 1154.8,354.2 1155.2,354.6 1155.5,355.5 1155.8,356.8 1156.2,357.2 1156.5,355.8 1156.8,358.8 1157.2,357.7 1157.5,358.2 1157.8,360.3 1158.2,359.5 1158.5,359.1 1158.8,359.9 1159.2,360.1 1159.5,360.3 1159.8,361.1 1160.2,362.3 1160.5,362.3 1160.8,361.3 1161.2,364.7 1161.5,362.3 1161.8,363.4 1162.2,363.7 1162.5,364.5 1162.8,363.5 1163.1,363.9 1163.5,364.8 1163.8,363.2 1164.1,362.1 1164.4,362.9 1164.7,361.8 1165.0,361.9 1165.4,362.1 1165.7,362.0 1166.0,361.3 1166.3,362.0 1166.7,361.1 1167.0,360.2 1167.3,361.6 1167.7,360.6 1168.0,361.6 1168.3,360.2 1168.7,360.9 1169.0,360.6 1169.3,358.3 1169.7,359.0 1170.0,359.2 1170.3,360.8 1170.7,358.2 1171.0,360.0 1171.3,359.9 1171.7,359.2 1172.0,359.2 1172.3,358.1 1172.7,358.2 1173.0,358.2 1173.3,358.1 1173.6,358.0 1174.0,357.1 1174.3,356.5 1174.6,356.3 1174.9,356.8 1175.2,355.1 1175.6,355.1 1175.9,355.5 1176.2,355.1 1176.5,355.1 1176.9,353.1 1177.2,354.5 1177.5,354.3 1177.8,356.0 1178.1,354.9 1178.4,357.1 1178.8,358.6 1179.1,359.5 1179.4,361.0 1179.7,361.8 1180.0,361.2 1180.3,363.2 1180.6,363.3 1180.9,363.7 1181.2,366.1 1181.6,365.3 1181.9,365.9 1182.2,367.0 1182.5,367.4 1182.8,368.4 1183.2,367.6 1183.5,368.0 1183.8,367.0 1184.2,365.9 1184.5,366.8 1184.8,365.2 1185.2,365.0 1185.5,364.9 1185.8,365.5 1186.1,366.8 1186.5,365.9 1186.8,367.1 1187.1,367.3 1187.4,366.8 1187.7,367.4 1188.0,368.5 1188.4,369.4 1188.7,369.8 1189.0,370.3 1189.3,370.0 1189.7,369.7 1190.0,370.3 1190.3,369.3 1190.7,369.0 1191.0,369.8 1191.3,369.0 1191.7,369.6 1192.0,369.5 1192.3,369.6 1192.7,370.0 1193.0,369.4 1193.3,369.7 1193.7,368.8 1194.0,370.1 1194.3,369.6 1194.7,370.7 1195.0,368.6 1195.3,370.3 1195.7,371.2 1196.0,369.5 1196.3,371.2 1196.7,371.7 1197.0,371.9 1197.3,371.0 1197.7,372.5 1198.0,372.6 1198.3,371.9 1198.7,373.3 1199.0,372.8 1199.3,373.0 1199.7,372.8 1200.0,373.6 1200.3,373.4 1200.7,374.3 1201.0,374.0 1201.3,373.3 1201.7,373.7 1202.0,374.7 1202.3,373.5 1202.6,373.9 1202.9,373.8 1203.2,373.1 1203.6,371.4 1203.9,373.0 1204.2,372.8 1204.5,372.6 1204.8,372.2 1205.2,373.8 1205.5,373.1 1205.8,372.9 1206.2,373.1 1206.5,374.1 1206.8,373.3 1207.2,373.6 1207.5,376.0 1207.8,375.3 1208.1,375.1 1208.5,375.2 1208.8,374.5 1209.1,372.7 1209.4,374.7 1209.8,374.6 1210.1,374.0 1210.4,372.1 1210.7,374.3 1211.0,374.3 1211.4,372.9 1211.7,373.2 1212.0,373.6 1212.3,372.4 1212.7,372.7 1213.0,371.5 1213.3,371.4 1213.7,370.4 1214.0,368.7 1214.3,368.5 1214.7,371.0 1215.0,368.4 1215.3,368.6 1215.7,368.0 1216.0,367.8 1216.3,366.5 1216.7,365.1 1217.0,365.0 1217.3,363.9 1217.7,365.5 1218.0,366.7 1218.3,364.8 1218.7,366.8 1219.0,367.6 1219.3,368.3 1219.7,367.0 1220.0,367.5 1220.3,367.0 1220.7,367.9 1221.0,369.4 1221.3,370.3 1221.7,367.7 1222.0,369.3 1222.3,368.3 1222.7,367.4 1223.0,369.1 1223.3,365.4 1223.7,367.0 1224.0,366.9 1224.3,368.1 1224.7,367.6 1225.0,367.6 1225.3,365.7 1225.7,365.8 1226.0,365.7 1226.3,364.6 1226.7,364.0 1227.0,363.2 1227.3,362.6 1227.7,361.5 1228.0,363.4 1228.3,361.8 1228.7,360.8 1229.0,362.7 1229.3,362.6 1229.7,363.0 1230.0,364.3 1230.3,363.1 1230.7,363.1 1231.0,363.0 1231.3,363.7 1231.7,363.5 1232.0,364.1 1232.3,366.4 1232.7,364.5 1233.0,363.8 1233.3,365.9 1233.7,365.3 1234.0,365.3 1234.3,365.4 1234.7,365.6 1235.0,365.6 1235.3,366.3 1235.7,366.1 1236.0,366.5 1236.3,365.6 1236.7,366.5 1237.0,366.5 1237.3,368.2 1237.7,368.6 1238.0,368.2 1238.3,369.4 1238.7,371.4 1239.0,370.9 1239.3,369.6 1239.7,370.7 1240.0,371.6 1240.3,371.5 1240.7,372.2 1241.0,373.2 1241.3,373.0 1241.7,372.3 1242.0,374.0 1242.3,373.2 1242.7,373.0 1243.0,372.3 1243.3,371.4 1243.7,371.2 1244.0,371.6 1244.3,370.8 1244.7,369.3 1245.0,371.8 1245.3,370.8 1245.7,371.7 1246.0,373.2 1246.3,371.7 1246.7,375.0 1247.0,374.1 1247.3,375.8 1247.7,375.5 1248.0,376.7 1248.3,375.4 1248.7,374.2 1249.0,371.7 1249.3,370.8 1249.7,370.6 1250.0,370.5 1250.3,367.9 1250.7,367.6 1251.0,366.1 1251.3,366.5 1251.7,367.0 1252.0,365.3 1252.3,366.7 1252.7,366.5 1253.0,366.5 1253.3,366.3 1253.7,366.4 1254.0,366.4 1254.3,366.4 1254.7,369.2 1255.0,368.7 1255.3,367.8 1255.6,368.7 1256.0,367.8 1256.3,366.8 1256.6,367.8 1256.9,369.5 1257.2,370.8 1257.6,370.0 1257.9,369.7 1258.2,370.5 1258.5,370.3 1258.9,370.3 1259.2,371.5 1259.5,371.7 1259.8,370.9 1260.1,370.4 1260.5,369.9 1260.8,370.3 1261.1,370.7 1261.4,369.1 1261.8,370.4 1262.1,367.1 1262.4,368.0 1262.7,366.5 1263.0,366.8 1263.4,366.5 1263.7,366.4 1264.0,366.3 1264.3,365.0 1264.6,364.5 1265.0,365.2 1265.3,365.5 1265.6,364.8 1265.9,365.9 1266.2,366.4 1266.5,364.1 1266.9,365.4 1267.2,365.8 1267.5,363.6 1267.8,365.4 1268.2,365.3 1268.5,364.6 1268.8,366.9 1269.2,366.3 1269.5,366.0 1269.8,366.9 1270.2,367.2 1270.5,367.6 1270.8,366.9 1271.1,366.3 1271.4,364.6 1271.8,364.7 1272.1,364.6 1272.4,362.0 1272.7,365.1 1273.0,362.7 1273.3,362.5 1273.7,362.2 1274.0,363.9 1274.3,364.0 1274.7,363.8 1275.0,364.2 1275.3,364.1 1275.7,364.5 1276.0,365.2 1276.3,365.0 1276.7,366.2 1277.0,365.9 1277.3,366.2 1277.6,366.5 1277.9,367.3 1278.2,366.9 1278.6,366.8 1278.9,366.6 1279.2,366.3 1279.5,366.7 1279.8,368.1 1280.1,368.3 1280.5,368.4 1280.8,368.3 1281.1,368.7 1281.4,370.7 1281.8,371.8 1282.1,371.8 1282.4,371.1 1282.7,372.6 1283.0,373.4 1283.4,373.2 1283.7,374.7 1284.0,374.9 1284.3,373.8 1284.6,372.9 1285.0,373.8 1285.3,372.9 1285.6,371.4 1285.9,370.7 1286.2,371.5 1286.5,370.7 1286.9,369.5 1287.2,370.3 1287.5,368.3 1287.8,367.3 1288.1,368.4 1288.4,367.0 1288.8,367.0 1289.1,366.3 1289.4,365.1 1289.7,364.6 1290.0,364.9 1290.3,365.9 1290.7,364.1 1291.0,365.7 1291.3,364.8 1291.7,363.8 1292.0,364.7 1292.3,364.8 1292.7,363.7 1293.0,362.7 1293.3,364.4 1293.7,363.3 1294.0,364.3 1294.3,362.9 1294.7,364.5 1295.0,364.3 1295.3,364.1 1295.7,365.3 1296.0,365.9 1296.3,365.6 1296.7,365.5 1297.0,366.8 1297.3,365.6 1297.7,367.6 1298.0,367.9 1298.3,369.2 1298.7,369.1 1299.0,369.1 1299.3,369.5 1299.7,369.8 1300.0,369.3 1300.3,371.8 1300.7,371.6 1301.0,371.4 1301.3,371.2 1301.7,373.6 1302.0,373.4 1302.3,372.0 1302.7,373.3 1303.0,374.0 1303.3,372.5 1303.7,372.7 1304.0,372.0 1304.3,371.8 1304.7,372.9 1305.0,374.2 1305.3,372.1 1305.6,371.9 1306.0,372.6 1306.3,371.8 1306.6,372.5 1306.9,372.6 1307.2,371.3 1307.6,371.2 1307.9,371.9 1308.2,372.6 1308.5,372.2 1308.9,372.9 1309.2,371.0 1309.5,372.4 1309.8,371.8 1310.1,372.6 1310.5,373.1 1310.8,372.4 1311.1,373.3 1311.4,372.9 1311.8,374.2 1312.1,373.7 1312.4,374.2 1312.7,375.0 1313.0,374.7 1313.4,376.3 1313.7,375.3 1314.0,376.6 1314.3,375.7 1314.7,374.2 1315.0,374.3 1315.3,373.4 1315.7,373.2 1316.0,372.8 1316.3,373.8 1316.7,371.7 1317.0,372.6 1317.3,371.3 1317.7,369.5 1318.0,368.3 1318.3,370.4 1318.7,368.3 1319.0,370.2 1319.3,370.3 1319.7,369.7 1320.0,369.2 1320.3,369.0 1320.7,369.3 1321.0,368.8 1321.3,368.1 1321.7,367.6 1322.0,368.2 1322.3,366.3 1322.7,366.5 1323.0,364.8 1323.3,364.6 1323.7,363.6 1324.0,363.9 1324.3,364.7 1324.7,364.6 1325.0,364.1 1325.3,365.1 1325.7,364.6 1326.0,365.3 1326.3,365.4 1326.7,365.7 1327.0,363.7 1327.3,365.0 1327.7,367.0 1328.0,366.8 1328.3,368.9 1328.7,367.6 1329.0,367.8 1329.3,369.7 1329.7,369.5 1330.0,370.9 1330.3,369.3 1330.6,368.2 1331.0,368.3 1331.3,366.6 1331.6,366.3 1331.9,365.7 1332.2,365.3 1332.6,365.5 1332.9,364.0 1333.2,364.0 1333.5,362.9 1333.9,363.3 1334.2,360.1 1334.5,361.3 1334.8,362.1 1335.2,361.7 1335.5,363.7 1335.8,363.7 1336.2,364.9 1336.5,365.2 1336.8,365.5 1337.2,365.4 1337.5,365.2 1337.8,366.0 1338.1,365.9 1338.4,366.6 1338.8,366.2 1339.1,368.8 1339.4,365.6 1339.7,367.7 1340.0,366.7 1340.3,367.4 1340.7,368.9 1341.0,368.8 1341.3,368.6 1341.7,370.4 1342.0,370.5 1342.3,369.8 1342.7,372.0 1343.0,371.7 1343.3,371.8 1343.7,372.6 1344.0,372.3 1344.3,371.8 1344.7,373.4 1345.0,372.1 1345.3,371.2 1345.7,371.7 1346.0,371.3 1346.3,369.7 1346.7,370.0 1347.0,370.0 1347.3,372.0 1347.6,369.8 1348.0,369.2 1348.3,368.4 1348.6,369.0 1348.9,367.8 1349.2,368.5 1349.6,367.3 1349.9,367.4 1350.2,365.6 1350.5,365.4 1350.9,364.3 1351.2,363.9 1351.5,362.2 1351.8,363.3 1352.2,363.3 1352.5,363.7 1352.8,365.3 1353.2,364.8 1353.5,365.7 1353.8,365.7 1354.2,365.9 1354.5,366.2 1354.8,364.8 1355.1,365.5 1355.5,364.4 1355.8,364.0 1356.1,365.0 1356.4,365.4 1356.7,362.9 1357.0,364.6 1357.4,363.6 1357.7,362.2 1358.0,362.7 1358.3,362.5 1358.7,362.3 1359.0,361.6 1359.3,360.7 1359.7,361.4 1360.0,361.8 1360.3,361.5 1360.7,361.2 1361.0,361.3 1361.3,360.1 1361.6,361.1 1362.0,361.7 1362.3,362.5 1362.6,362.2 1362.9,362.8 1363.2,362.8 1363.5,364.6 1363.9,361.8 1364.2,363.7 1364.5,365.8 1364.8,364.7 1365.1,363.8 1365.5,365.7 1365.8,365.1 1366.1,366.2 1366.4,367.4 1366.7,369.1 1367.0,368.7 1367.4,369.4 1367.7,370.2 1368.0,370.1 1368.3,369.3 1368.7,369.7 1369.0,369.9 1369.3,369.3 1369.7,368.9 1370.0,369.0 1370.3,368.0 1370.7,368.3 1371.0,368.8 1371.3,368.5 1371.7,368.7 1372.0,369.5 1372.3,368.3 1372.7,367.6 1373.0,366.3 1373.3,365.9 1373.7,366.5 1374.0,365.1 1374.3,365.6 1374.7,364.1 1375.0,364.5 1375.3,363.9 1375.7,364.2 1376.0,362.7 1376.3,363.3 1376.7,364.3 1377.0,364.7 1377.3,366.4 1377.7,365.6 1378.0,365.9 1378.3,366.7 1378.7,367.8 1379.0,368.2 1379.3,368.6 1379.7,367.1 1380.0,370.0 1380.3,369.6 1380.7,368.3 1381.0,367.5 1381.3,368.5 1381.7,368.7 1382.0,366.9 1382.3,368.3 1382.7,366.9 1383.0,368.1 1383.3,368.5 1383.7,368.0 1384.0,365.9 1384.3,367.7 1384.7,367.2 1385.0,366.0 1385.3,366.4 1385.7,366.8 1386.0,365.3 1386.3,365.3 1386.7,364.8 1387.0,365.8 1387.3,363.3 1387.7,365.7 1388.0,363.8 1388.3,365.0 1388.7,363.0 1389.0,363.3 1389.3,362.7 1389.7,362.8 1390.0,360.2 1390.3,360.9 1390.7,359.1 1391.0,359.6 1391.3,357.6 1391.7,357.2 1392.0,355.9 1392.3,357.1 1392.7,355.4 1393.0,355.5 1393.3,356.8 1393.7,355.2 1394.0,355.5 1394.3,354.3 1394.7,354.8 1395.0,352.9 1395.3,354.9 1395.7,354.6 1396.0,354.3 1396.3,354.6 1396.7,356.8 1397.0,356.6 1397.3,355.4 1397.7,358.1 1398.0,356.6 1398.3,357.2 1398.7,357.9 1399.0,357.2 1399.3,356.7 1399.6,357.1 1400.0,358.3 1400.3,358.0 1400.6,356.0 1400.9,357.8 1401.2,356.8 1401.5,356.9 1401.9,356.4 1402.2,356.5 1402.5,355.3 1402.8,355.7 1403.1,356.2 1403.5,356.8 1403.8,357.9 1404.1,356.9 1404.4,359.3 1404.7,358.1 1405.0,358.5 1405.4,359.8 1405.7,359.9 1406.0,359.8 1406.3,358.9 1406.7,358.5 1407.0,357.7 1407.3,359.3 1407.7,358.9 1408.0,359.1 1408.3,357.7 1408.7,357.2 1409.0,357.2 1409.3,356.9 1409.7,355.7 1410.0,355.8 1410.3,357.3 1410.6,354.7 1411.0,355.2 1411.3,355.7 1411.6,357.2 1411.9,357.7 1412.2,356.8 1412.5,357.8 1412.9,357.5 1413.2,358.0 1413.5,357.6 1413.8,357.6 1414.1,357.2 1414.5,357.6 1414.8,358.0 1415.1,354.6 1415.4,355.9 1415.7,355.1 1416.0,355.4 1416.4,355.1 1416.7,354.5 1417.0,354.1 1417.3,352.6 1417.6,351.8 1417.9,354.0 1418.2,353.4 1418.6,351.6 1418.9,352.9 1419.2,352.2 1419.5,349.7 1419.8,351.3 1420.2,349.1 1420.5,349.8 1420.8,347.7 1421.2,346.8 1421.5,345.4 1421.8,346.6 1422.2,347.7 1422.5,346.7 1422.8,346.0 1423.2,349.2 1423.5,349.2 1423.8,348.6 1424.2,347.9 1424.5,347.6 1424.8,347.3 1425.2,348.9 1425.5,349.4 1425.8,347.7 1426.2,348.5 1426.5,348.3 1426.9,348.3 1427.2,348.5" fill="none" stroke="#1f77b4" stroke-width="3.1" stroke-linejoin="round" stroke-linecap="round"/>
<polyline points="264.0,1086.0 264.3,1085.8 264.7,1085.8 265.0,1085.7 265.3,1085.4 265.7,1085.2 266.0,1085.2 266.3,1085.2 266.7,1085.1 267.0,1084.7 267.3,1084.6 267.7,1084.7 268.0,1084.6 268.3,1084.7 268.7,1084.6 269.0,1084.5 269.3,1084.5 269.7,1084.8 270.0,1084.5 270.3,1084.4 270.7,1084.4 271.0,1084.5 271.3,1084.5 271.7,1084.5 272.0,1084.5 272.3,1084.5 272.7,1084.6 273.0,1084.6 273.3,1084.5 273.7,1084.3 274.0,1084.6 274.3,1084.3 274.7,1084.5 275.0,1084.3 275.3,1084.5 275.7,1084.4 276.0,1084.6 276.3,1085.0 276.7,1084.6 277.0,1084.7 277.3,1084.5 277.7,1084.6 278.0,1084.8 278.3,1084.7 278.7,1084.8 279.0,1084.8 279.3,1084.6 279.7,1084.9 280.0,1084.7 280.3,1085.1 280.7,1084.8 281.0,1085.0 281.3,1084.9 281.7,1085.0 282.0,1084.9 282.3,1085.1 282.7,1085.0 283.0,1085.2 283.3,1085.1 283.7,1085.0 284.0,1084.9 284.3,1085.1 284.7,1085.0 285.0,1085.1 285.3,1084.9 285.7,1085.0 286.0,1085.0 286.3,1084.9 286.7,1084.9 287.0,1084.9 287.3,1084.8 287.7,1084.7 288.0,1084.8 288.3,1084.9 288.7,1085.0 289.0,1084.9 289.3,1084.9 289.7,1084.9 290.0,1084.9 290.3,1084.8 290.7,1084.8 291.0,1084.9 291.3,1084.6 291.7,1084.5 292.0,1084.8 292.3,1084.5 292.7,1084.5 293.0,1084.5 293.3,1084.2 293.7,1084.6 294.0,1084.5 294.3,1084.2 294.7,1084.2 295.0,1084.1 295.3,1083.9 295.7,1084.0 296.0,1084.0 296.3,1084.1 296.7,1083.9 297.0,1083.8 297.3,1084.0 297.7,1083.6 298.0,1083.8 298.3,1083.8 298.7,1083.6 299.0,1083.3 299.3,1083.4 299.7,1083.6 300.0,1083.6 300.3,1083.7 300.7,1083.3 301.0,1083.4 301.3,1083.5 301.7,1083.3 302.0,1082.9 302.3,1083.4 302.7,1083.6 303.0,1083.4 303.3,1083.1 303.7,1083.3 304.0,1083.5 304.3,1083.9 304.7,1083.7 305.0,1083.7 305.3,1084.0 305.7,1083.9 306.0,1084.2 306.3,1084.0 306.7,1084.1 307.0,1084.3 307.3,1084.5 307.7,1084.5 308.0,1084.5 308.3,1084.2 308.7,1084.4 309.0,1084.3 309.3,1084.3 309.7,1084.4 310.0,1084.3 310.3,1084.4 310.7,1084.3 311.0,1084.2 311.3,1084.2 311.7,1084.3 312.0,1084.3 312.3,1084.1 312.7,1084.1 313.0,1083.9 313.3,1084.3 313.7,1084.2 314.0,1084.0 314.3,1084.0 314.7,1083.9 315.0,1084.2 315.3,1084.2 315.7,1084.5 316.0,1084.3 316.3,1084.2 316.7,1084.1 317.0,1084.6 317.3,1084.5 317.7,1084.3 318.0,1084.6 318.3,1084.4 318.7,1085.1 319.0,1084.9 319.3,1084.9 319.7,1084.8 320.0,1084.6 320.3,1084.9 320.7,1084.8 321.0,1085.1 321.3,1084.9 321.7,1085.0 322.0,1085.3 322.3,1085.4 322.7,1085.0 323.0,1085.0 323.3,1085.2 323.7,1085.2 324.0,1085.0 324.3,1085.0 324.7,1085.0 325.0,1084.9 325.3,1085.0 325.7,1085.2 326.0,1085.1 326.3,1085.2 326.7,1085.0 327.0,1084.9 327.3,1084.8 327.7,1084.9 328.0,1084.7 328.3,1084.7 328.7,1085.0 329.0,1085.0 329.3,1084.9 329.7,1085.0 330.0,1084.8 330.3,1084.7 330.7,1084.7 331.0,1084.6 331.3,1084.5 331.7,1084.4 332.0,1084.4 332.3,1084.5 332.7,1084.5 333.0,1084.4 333.3,1084.6 333.7,1084.4 334.0,1084.4 334.3,1084.5 334.7,1084.2 335.0,1084.0 335.3,1084.3 335.7,1084.1 336.0,1084.3 336.3,1084.1 336.7,1084.2 337.0,1084.1 337.3,1083.6 337.7,1083.8 338.0,1083.5 338.3,1083.4 338.7,1083.3 339.0,1083.3 339.3,1083.2 339.7,1083.1 340.0,1082.5 340.3,1082.7 340.7,1082.4 341.0,1082.8 341.3,1082.9 341.7,1082.7 342.0,1082.9 342.3,1082.9 342.7,1083.0 343.0,1082.8 343.3,1082.8 343.7,1082.8 344.0,1083.2 344.3,1083.1 344.7,1082.9 345.0,1083.0 345.3,1083.0 345.7,1083.0 346.0,1083.0 346.3,1082.9 346.7,1082.7 347.0,1082.7 347.3,1083.0 347.7,1082.8 348.0,1082.7 348.3,1082.6 348.7,1082.6 349.0,1082.6 349.3,1082.3 349.7,1082.4 350.0,1082.4 350.3,1082.2 350.7,1082.1 351.0,1082.0 351.3,1081.9 351.7,1082.2 352.0,1081.6 352.3,1082.0 352.7,1082.0 353.0,1082.1 353.3,1082.2 353.7,1082.5 354.0,1082.3 354.3,1082.4 354.7,1082.3 355.0,1082.5 355.3,1082.7 355.7,1082.5 356.0,1082.5 356.3,1082.5 356.7,1082.6 357.0,1082.6 357.3,1083.1 357.7,1083.0 358.0,1083.0 358.3,1083.2 358.7,1082.9 359.0,1083.1 359.3,1083.1 359.7,1082.7 360.0,1082.7 360.3,1082.8 360.7,1083.1 361.0,1083.1 361.3,1082.7 361.7,1083.1 362.0,1082.8 362.3,1082.8 362.7,1082.8 363.0,1082.8 363.3,1082.6 363.7,1082.7 364.0,1082.6 364.3,1082.9 364.7,1083.1 365.0,1083.2 365.3,1082.7 365.7,1082.4 366.0,1082.6 366.3,1082.5 366.7,1082.9 367.0,1082.7 367.3,1082.4 367.7,1082.6 368.0,1082.5 368.3,1082.1 368.7,1082.3 369.0,1082.3 369.3,1082.3 369.7,1082.3 370.0,1082.2 370.3,1082.2 370.7,1082.1 371.0,1082.0 371.3,1082.3 371.7,1082.1 372.0,1082.1 372.3,1081.7 372.7,1081.8 373.0,1081.9 373.3,1081.5 373.7,1081.9 374.0,1081.5 374.3,1081.6 374.7,1081.4 375.0,1081.4 375.3,1081.6 375.7,1081.2 376.0,1081.5 376.3,1081.0 376.7,1080.9 377.0,1081.1 377.3,1080.7 377.7,1080.8 378.0,1081.0 378.3,1081.0 378.7,1080.5 379.0,1081.0 379.3,1081.2 379.7,1081.1 380.0,1080.9 380.3,1080.8 380.7,1080.9 381.0,1080.8 381.3,1081.0 381.7,1081.0 382.0,1081.0 382.3,1081.3 382.7,1081.1 383.0,1080.9 383.3,1081.3 383.7,1081.0 384.0,1081.1 384.3,1080.9 384.7,1080.6 385.0,1080.2 385.3,1080.1 385.7,1080.3 386.0,1079.5 386.3,1079.3 386.7,1079.3 387.0,1079.0 387.3,1078.7 387.7,1078.5 388.0,1077.6 388.3,1077.7 388.7,1077.9 389.0,1077.9 389.3,1078.0 389.7,1077.8 390.0,1077.5 390.3,1077.5 390.7,1077.4 391.0,1077.5 391.3,1077.5 391.7,1077.2 392.0,1077.0 392.3,1076.9 392.7,1077.3 393.0,1077.3 393.3,1077.2 393.7,1077.1 394.0,1077.0 394.3,1076.6 394.7,1076.6 395.0,1076.0 395.3,1076.0 395.7,1075.7 396.0,1075.8 396.3,1075.3 396.7,1075.2 397.0,1075.2 397.3,1075.2 397.7,1074.5 398.0,1074.3 398.3,1074.4 398.7,1073.7 399.0,1073.8 399.3,1073.2 399.7,1073.1 400.0,1072.4 400.3,1072.8 400.7,1072.2 401.0,1071.8 401.3,1072.3 401.7,1071.7 402.0,1072.2 402.3,1071.3 402.7,1071.1 403.0,1071.3 403.3,1071.7 403.7,1071.3 404.0,1071.4 404.3,1071.5 404.7,1071.1 405.0,1071.4 405.3,1071.3 405.7,1071.1 406.0,1071.7 406.3,1071.6 406.7,1071.5 407.0,1071.2 407.3,1071.0 407.6,1071.7 408.0,1071.6 408.3,1071.2 408.6,1071.7 408.9,1071.3 409.2,1071.7 409.6,1071.8 409.9,1071.9 410.2,1071.9 410.5,1071.9 410.9,1071.6 411.2,1071.9 411.5,1071.9 411.8,1071.6 412.1,1071.4 412.5,1071.1 412.8,1071.1 413.1,1069.5 413.4,1070.1 413.8,1069.5 414.1,1069.9 414.4,1069.2 414.7,1068.1 415.0,1068.4 415.4,1067.7 415.7,1067.8 416.0,1066.9 416.3,1067.2 416.7,1067.2 417.0,1067.3 417.3,1067.2 417.7,1066.8 418.0,1067.6 418.3,1067.8 418.7,1067.5 419.0,1067.2 419.3,1067.6 419.7,1067.8 420.0,1067.6 420.3,1067.7 420.6,1068.1 421.0,1067.4 421.3,1067.6 421.6,1067.2 421.9,1067.6 422.3,1067.6 422.6,1067.6 422.9,1067.7 423.2,1068.5 423.6,1067.9 423.9,1068.0 424.2,1068.7 424.5,1068.1 424.8,1067.6 425.2,1067.9 425.5,1067.1 425.8,1067.5 426.1,1066.3 426.5,1066.1 426.8,1065.4 427.1,1065.6 427.4,1064.9 427.8,1064.8 428.1,1064.4 428.4,1063.9 428.7,1064.1 429.1,1063.8 429.4,1063.3 429.7,1062.8 430.0,1062.5 430.3,1062.7 430.7,1063.2 431.0,1062.0 431.3,1061.7 431.6,1061.5 432.0,1061.1 432.3,1060.9 432.6,1061.0 432.9,1061.3 433.3,1060.6 433.6,1060.2 433.9,1059.6 434.2,1060.0 434.5,1059.7 434.9,1059.0 435.2,1058.8 435.5,1059.0 435.8,1059.1 436.2,1058.8 436.5,1058.4 436.8,1058.0 437.1,1058.0 437.5,1057.6 437.8,1058.2 438.1,1056.8 438.4,1056.8 438.7,1057.4 439.1,1056.9 439.4,1057.5 439.7,1057.0 440.0,1057.0 440.4,1056.8 440.7,1056.5 441.0,1056.6 441.3,1057.8 441.7,1057.2 442.0,1057.2 442.3,1057.3 442.6,1057.2 442.9,1057.4 443.3,1056.9 443.6,1056.6 443.9,1056.9 444.2,1056.1 444.6,1055.5 444.9,1055.7 445.2,1055.3 445.5,1055.5 445.9,1054.8 446.2,1054.4 446.5,1054.4 446.8,1054.9 447.2,1054.0 447.5,1054.2 447.8,1054.2 448.1,1054.3 448.5,1054.6 448.8,1054.9 449.1,1053.7 449.5,1054.9 449.8,1054.5 450.1,1054.4 450.5,1055.5 450.8,1054.6 451.1,1055.4 451.5,1055.1 451.8,1054.4 452.1,1055.0 452.5,1055.2 452.8,1054.9 453.1,1054.1 453.5,1054.9 453.8,1054.2 454.1,1053.1 454.5,1053.6 454.8,1052.0 455.2,1051.2 455.5,1050.5 455.8,1049.6 456.2,1048.9 456.5,1048.5 456.8,1047.9 457.2,1047.4 457.5,1047.4 457.8,1046.7 458.1,1047.3 458.5,1046.6 458.8,1046.9 459.1,1046.2 459.4,1046.2 459.8,1046.4 460.1,1045.6 460.4,1047.0 460.7,1045.8 461.1,1045.9 461.4,1045.8 461.8,1046.9 462.1,1047.0 462.5,1046.6 462.8,1046.1 463.2,1046.6 463.5,1046.8 463.8,1046.0 464.2,1045.4 464.5,1045.1 464.8,1045.0 465.2,1045.0 465.5,1044.4 465.8,1044.4 466.2,1045.3 466.5,1044.6 466.8,1043.0 467.2,1043.4 467.5,1042.9 467.8,1042.1 468.2,1042.0 468.5,1040.7 468.8,1040.0 469.1,1039.2 469.5,1038.7 469.8,1038.6 470.1,1037.7 470.4,1036.0 470.8,1036.2 471.1,1035.9 471.4,1036.5 471.8,1036.1 472.1,1036.3 472.4,1035.7 472.8,1034.6 473.1,1035.6 473.4,1035.4 473.8,1035.4 474.1,1034.3 474.5,1034.9 474.8,1034.3 475.1,1033.8 475.5,1033.7 475.8,1033.1 476.1,1031.9 476.5,1030.9 476.8,1029.9 477.2,1030.3 477.5,1030.6 477.8,1029.4 478.2,1027.7 478.5,1028.2 478.8,1028.6 479.2,1029.0 479.5,1028.5 479.8,1027.9 480.1,1027.6 480.4,1026.7 480.8,1026.8 481.1,1026.6 481.4,1026.2 481.7,1026.4 482.1,1025.9 482.4,1026.1 482.7,1026.4 483.0,1025.8 483.4,1024.6 483.7,1023.2 484.0,1021.5 484.3,1021.2 484.6,1020.5 485.0,1018.6 485.3,1019.6 485.6,1018.4 485.9,1018.5 486.3,1017.9 486.6,1017.1 486.9,1018.7 487.2,1016.6 487.6,1017.5 487.9,1016.4 488.2,1016.6 488.5,1015.7 488.8,1015.6 489.2,1016.1 489.5,1016.4 489.8,1014.6 490.1,1014.8 490.5,1015.0 490.8,1013.8 491.1,1014.3 491.4,1013.2 491.8,1013.7 492.1,1012.8 492.4,1012.5 492.7,1011.3 493.1,1009.6 493.4,1009.9 493.7,1008.2 494.0,1008.5 494.3,1008.2 494.7,1006.9 495.0,1006.4 495.4,1007.5 495.7,1007.1 496.1,1006.4 496.4,1007.0 496.7,1008.2 497.1,1007.3 497.4,1006.0 497.7,1004.1 498.1,1001.6 498.4,1002.6 498.7,1003.5 499.1,1003.7 499.4,1003.7 499.8,1002.8 500.1,1005.1 500.4,1005.1 500.8,1005.6 501.1,1006.1 501.5,1005.3 501.8,1004.4 502.1,1004.0 502.4,1004.0 502.7,1001.1 503.1,1001.1 503.4,1000.0 503.7,999.9 504.0,999.6 504.4,997.6 504.7,996.2 505.0,996.2 505.3,995.2 505.7,993.6 506.0,994.3 506.3,992.6 506.6,992.6 506.9,990.5 507.3,991.3 507.6,989.4 507.9,990.8 508.2,988.7 508.6,990.6 508.9,989.2 509.2,988.2 509.5,988.9 509.9,989.0 510.2,988.0 510.5,988.0 510.8,988.1 511.2,987.5 511.5,985.3 511.8,986.7 512.1,986.9 512.4,986.5 512.8,986.7 513.1,985.2 513.4,987.0 513.7,985.4 514.1,984.7 514.4,984.8 514.7,984.3 515.0,983.3 515.4,982.5 515.7,983.1 516.0,982.3 516.3,980.4 516.6,980.5 517.0,981.2 517.3,979.9 517.7,979.0 518.0,978.2 518.4,976.8 518.7,976.7 519.0,974.2 519.4,973.3 519.7,973.8 520.0,974.2 520.4,974.2 520.7,974.8 521.0,973.4 521.3,974.6 521.7,974.2 522.0,973.2 522.3,973.8 522.6,975.4 522.9,974.6 523.3,973.7 523.6,972.1 523.9,973.0 524.3,972.7 524.6,972.9 525.0,974.2 525.3,972.8 525.6,972.2 526.0,971.0 526.3,970.5 526.6,970.9 527.0,970.4 527.3,972.6 527.6,969.9 528.0,969.3 528.3,970.0 528.6,968.8 528.9,967.4 529.3,968.7 529.6,967.1 529.9,965.8 530.2,966.5 530.5,966.2 530.9,965.3 531.2,965.8 531.5,965.6 531.8,964.1 532.2,962.9 532.5,962.4 532.8,963.7 533.1,964.4 533.5,964.0 533.8,964.0 534.1,964.1 534.4,962.4 534.7,962.7 535.0,960.4 535.3,961.6 535.7,961.0 536.0,960.3 536.3,959.7 536.7,958.8 537.0,959.4 537.3,959.8 537.7,958.2 538.0,958.5 538.3,957.3 538.7,957.6 539.0,956.3 539.3,956.8 539.7,955.8 540.0,955.7 540.3,954.5 540.7,953.6 541.0,953.8 541.3,954.3 541.7,954.2 542.0,952.3 542.3,953.1 542.7,953.2 543.0,952.9 543.3,951.5 543.7,953.0 544.0,952.0 544.3,953.7 544.7,953.4 545.0,953.3 545.3,951.0 545.7,953.4 546.0,953.5 546.3,951.8 546.6,953.3 547.0,952.4 547.3,951.9 547.6,951.3 547.9,950.8 548.3,951.0 548.6,953.4 548.9,951.0 549.2,950.8 549.6,949.9 549.9,949.7 550.2,949.5 550.5,949.0 550.9,950.1 551.2,949.0 551.5,949.6 551.8,947.6 552.2,948.7 552.5,947.5 552.8,947.5 553.2,946.4 553.5,945.3 553.8,946.4 554.2,944.7 554.5,944.4 554.8,943.3 555.2,943.7 555.5,942.7 555.8,942.7 556.2,942.3 556.5,941.0 556.8,940.9 557.1,942.7 557.5,943.6 557.8,943.8 558.1,942.9 558.4,944.7 558.7,945.0 559.0,945.3 559.4,945.9 559.7,945.8 560.0,946.7 560.3,946.6 560.7,944.9 561.0,943.6 561.3,944.0 561.7,943.6 562.0,941.4 562.3,941.7 562.7,942.1 563.0,940.9 563.3,940.9 563.7,939.7 564.0,941.2 564.3,941.6 564.7,940.0 565.0,939.5 565.3,939.0 565.7,940.3 566.0,939.6 566.3,938.7 566.7,940.1 567.0,939.6 567.3,939.3 567.7,937.3 568.0,938.4 568.3,938.4 568.6,936.4 569.0,937.4 569.3,937.2 569.6,936.3 569.9,934.4 570.2,933.8 570.5,934.5 570.9,933.9 571.2,933.5 571.5,932.9 571.8,932.1 572.1,932.0 572.5,931.0 572.8,933.1 573.1,934.4 573.4,932.5 573.7,932.6 574.0,933.6 574.4,933.5 574.7,932.3 575.0,933.0 575.3,931.6 575.7,932.9 576.0,929.8 576.3,929.9 576.7,929.7 577.0,928.6 577.3,927.2 577.7,926.3 578.0,923.1 578.3,924.1 578.7,924.1 579.0,924.8 579.3,927.3 579.7,924.4 580.0,926.4 580.3,925.4 580.7,927.7 581.0,928.0 581.3,926.9 581.7,929.2 582.0,928.1 582.3,929.5 582.6,929.2 582.9,929.1 583.2,929.7 583.6,930.4 583.9,931.5 584.2,931.6 584.5,933.8 584.8,931.6 585.1,931.2 585.5,930.8 585.8,930.5 586.1,929.8 586.4,929.9 586.7,931.1 587.0,930.2 587.4,929.8 587.7,930.0 588.0,930.3 588.3,930.2 588.7,930.6 589.0,929.8 589.3,930.3 589.7,930.2 590.0,930.9 590.3,931.1 590.6,932.1 590.9,932.9 591.2,933.6 591.6,934.2 591.9,934.8 592.2,936.8 592.5,936.2 592.8,935.5 593.1,936.2 593.5,935.1 593.8,934.9 594.1,935.5 594.4,934.0 594.8,932.6 595.1,935.1 595.4,935.4 595.7,933.2 596.1,933.6 596.4,934.5 596.7,932.3 597.0,933.0 597.4,932.5 597.7,933.1 598.0,931.5 598.3,933.4 598.7,932.4 599.0,932.5 599.3,931.8 599.7,930.2 600.0,931.4 600.3,930.2 600.7,931.0 601.0,930.1 601.3,930.3 601.7,930.1 602.0,930.6 602.3,930.7 602.7,929.6 603.0,930.5 603.3,931.8 603.7,931.2 604.0,930.5 604.3,931.4 604.7,931.7 605.0,933.2 605.3,933.0 605.7,933.8 606.0,935.7 606.3,933.0 606.7,933.2 607.0,932.7 607.3,932.8 607.7,934.6 608.0,934.2 608.3,935.2 608.7,932.5 609.0,933.3 609.3,935.1 609.7,934.8 610.0,934.7 610.3,934.7 610.7,934.0 611.0,934.0 611.3,933.7 611.7,934.0 612.0,932.9 612.3,932.9 612.7,933.4 613.0,931.2 613.3,931.1 613.7,931.8 614.0,930.8 614.3,930.5 614.7,931.9 615.0,930.3 615.3,929.4 615.7,930.2 616.0,930.9 616.3,928.2 616.7,928.6 617.0,929.2 617.3,928.7 617.7,930.8 618.0,929.6 618.3,929.0 618.7,929.7 619.0,928.8 619.3,929.0 619.7,929.5 620.0,931.3 620.3,927.6 620.7,929.4 621.0,929.9 621.3,929.2 621.7,929.9 622.0,928.6 622.3,928.2 622.7,927.7 623.0,927.0 623.3,928.6 623.7,926.3 624.0,926.9 624.3,926.2 624.7,925.6 625.0,924.2 625.3,925.2 625.7,925.2 626.0,924.8 626.3,924.9 626.7,923.8 627.0,923.0 627.3,923.6 627.7,923.7 628.0,922.4 628.3,921.9 628.7,922.1 629.0,923.5 629.3,923.4 629.7,921.8 630.0,922.5 630.3,922.9 630.7,923.1 631.0,921.5 631.3,921.1 631.7,921.6 632.0,921.6 632.3,920.1 632.7,917.4 633.0,917.8 633.3,917.4 633.7,917.7 634.0,917.3 634.3,917.6 634.7,918.0 635.0,919.5 635.3,918.8 635.7,918.7 636.0,918.5 636.3,917.6 636.7,917.6 637.0,918.3 637.3,917.6 637.7,918.1 638.0,916.4 638.3,915.9 638.7,914.3 639.0,915.4 639.3,913.5 639.7,915.5 640.0,913.5 640.3,913.4 640.7,911.9 641.0,912.0 641.3,911.1 641.7,912.1 642.0,910.9 642.3,909.2 642.7,908.1 643.0,908.9 643.3,908.9 643.7,908.6 644.0,910.1 644.3,909.7 644.7,910.2 645.0,909.9 645.3,910.1 645.7,910.4 646.0,909.8 646.3,911.4 646.7,911.2 647.0,909.6 647.3,910.9 647.7,911.7 648.0,910.9 648.3,911.7 648.7,910.5 649.0,910.6 649.3,909.6 649.7,909.9 650.0,909.1 650.3,910.5 650.6,912.1 650.9,913.0 651.2,914.1 651.6,914.0 651.9,913.9 652.2,915.6 652.5,915.9 652.8,917.3 653.1,917.5 653.5,916.7 653.8,915.1 654.1,915.6 654.4,916.1 654.7,915.5 655.0,916.4 655.4,916.5 655.7,916.6 656.0,916.2 656.3,915.9 656.7,916.5 657.0,917.6 657.3,919.2 657.7,920.0 658.0,920.1 658.3,920.2 658.7,921.0 659.0,921.6 659.3,921.0 659.7,919.6 660.0,916.8 660.3,917.7 660.7,916.3 661.0,914.7 661.3,915.3 661.7,915.0 662.0,914.7 662.3,913.4 662.7,914.7 663.0,914.9 663.3,914.4 663.7,913.1 664.0,914.6 664.3,914.7 664.7,914.2 665.0,914.3 665.3,914.7 665.7,915.3 666.0,917.1 666.3,917.4 666.7,918.7 667.0,921.9 667.3,921.0 667.7,921.4 668.0,921.0 668.3,923.2 668.7,924.7 669.0,924.5 669.3,925.0 669.7,923.8 670.0,926.1 670.3,925.4 670.7,926.6 671.0,927.4 671.3,926.4 671.7,927.5 672.0,927.2 672.3,926.6 672.7,926.4 673.0,925.7 673.3,927.1 673.7,926.6 674.0,925.0 674.3,926.2 674.7,924.8 675.0,924.0 675.3,925.8 675.7,923.7 676.0,925.4 676.3,923.3 676.7,922.5 677.0,920.9 677.3,920.0 677.7,918.1 678.0,916.9 678.3,916.6 678.7,917.1 679.0,915.8 679.3,916.8 679.7,917.0 680.0,915.7 680.3,916.0 680.7,915.1 681.0,915.2 681.3,915.4 681.7,914.9 682.0,914.3 682.3,914.7 682.7,914.6 683.0,914.5 683.3,914.5 683.7,912.4 684.0,914.6 684.3,913.1 684.7,912.4 685.0,912.5 685.3,912.8 685.7,912.9 686.0,911.7 686.3,912.3 686.7,911.1 687.0,912.6 687.3,912.6 687.7,912.5 688.0,913.7 688.3,914.5 688.7,914.1 689.0,912.9 689.3,914.8 689.7,913.6 690.0,914.0 690.3,913.8 690.7,914.8 691.0,915.1 691.3,915.0 691.7,915.0 692.0,915.2 692.3,915.3 692.7,916.5 693.0,915.6 693.3,916.0 693.6,916.0 693.9,915.7 694.2,916.2 694.5,915.4 694.8,917.5 695.1,918.3 695.4,918.3 695.8,920.4 696.1,919.3 696.4,921.0 696.7,921.7 697.0,921.6 697.3,921.7 697.7,922.3 698.0,921.5 698.3,921.5 698.7,922.2 699.0,921.2 699.3,919.6 699.7,920.1 700.0,921.1 700.3,920.5 700.7,919.9 701.0,919.4 701.3,921.2 701.7,922.2 702.0,920.2 702.3,919.7 702.7,921.8 703.0,921.1 703.3,921.2 703.7,921.1 704.0,920.7 704.3,921.6 704.7,921.9 705.0,921.4 705.3,920.7 705.7,921.8 706.0,920.9 706.3,921.2 706.7,919.8 707.0,920.7 707.3,920.5 707.7,920.6 708.0,919.4 708.3,919.5 708.7,918.4 709.0,919.3 709.3,918.9 709.7,918.9 710.0,917.5 710.3,916.6 710.7,917.2 711.0,916.8 711.3,917.1 711.7,918.7 712.0,919.5 712.3,919.7 712.7,920.9 713.0,921.0 713.3,920.6 713.7,921.5 714.0,922.2 714.3,923.0 714.7,923.3 715.0,922.7 715.3,923.4 715.7,922.1 716.0,922.6 716.3,923.8 716.7,923.1 717.0,923.6 717.3,921.4 717.7,921.6 718.0,922.3 718.3,923.7 718.7,924.2 719.0,922.5 719.3,922.4 719.6,922.5 720.0,922.8 720.3,924.0 720.6,923.5 720.9,925.2 721.2,924.5 721.5,923.6 721.9,924.4 722.2,924.3 722.5,925.1 722.8,924.6 723.1,923.1 723.4,923.5 723.8,922.7 724.1,921.6 724.4,921.3 724.7,921.1 725.0,919.8 725.3,919.7 725.6,921.4 726.0,920.7 726.3,920.5 726.6,921.5 726.9,920.3 727.2,921.6 727.5,920.8 727.9,921.7 728.2,921.0 728.5,922.0 728.8,922.7 729.1,921.5 729.4,920.3 729.8,922.0 730.1,919.9 730.4,921.0 730.7,919.1 731.0,917.9 731.3,920.8 731.6,919.5 732.0,920.7 732.3,921.5 732.6,920.0 732.9,921.4 733.2,921.3 733.6,922.6 733.9,922.5 734.2,922.0 734.5,923.4 734.9,924.3 735.2,923.9 735.5,924.9 735.8,923.5 736.2,923.2 736.5,922.9 736.8,922.2 737.2,922.4 737.5,921.5 737.8,920.8 738.2,920.1 738.5,919.1 738.8,918.5 739.2,920.5 739.5,921.3 739.8,920.5 740.2,920.5 740.5,921.0 740.8,922.2 741.2,921.9 741.5,921.3 741.8,922.5 742.1,922.7 742.4,923.7 742.8,923.8 743.1,924.5 743.4,926.8 743.7,927.1 744.0,925.8 744.3,926.4 744.6,926.9 744.9,927.1 745.2,926.5 745.6,928.3 745.9,926.6 746.2,928.4 746.5,928.5 746.8,927.3 747.1,926.7 747.5,926.8 747.8,926.5 748.1,924.4 748.4,924.6 748.7,925.5 749.0,924.7 749.4,924.0 749.7,923.2 750.0,923.0 750.3,922.9 750.7,925.5 751.0,922.5 751.3,924.5 751.7,923.6 752.0,923.4 752.3,923.4 752.7,922.9 753.0,924.3 753.3,923.5 753.7,923.0 754.0,922.9 754.3,923.7 754.6,923.2 754.9,924.3 755.2,924.5 755.6,926.0 755.9,926.4 756.2,925.1 756.5,926.8 756.8,927.5 757.1,925.6 757.4,925.4 757.8,926.7 758.1,925.7 758.4,925.2 758.7,924.4 759.0,925.1 759.3,924.9 759.7,925.8 760.0,926.3 760.3,926.9 760.7,926.4 761.0,926.6 761.3,927.4 761.7,927.6 762.0,928.1 762.3,927.6 762.6,927.7 762.9,927.4 763.2,927.3 763.6,927.8 763.9,928.5 764.2,927.2 764.5,927.9 764.8,928.4 765.1,929.0 765.4,930.1 765.8,929.8 766.1,931.4 766.4,931.9 766.7,929.8 767.0,933.3 767.3,934.1 767.7,935.8 768.0,934.2 768.3,935.7 768.7,936.6 769.0,936.3 769.3,938.1 769.7,937.7 770.0,936.9 770.3,936.8 770.7,937.5 771.0,939.7 771.3,939.8 771.7,936.5 772.0,937.2 772.3,939.2 772.7,938.8 773.0,938.5 773.3,939.1 773.7,938.4 774.0,938.2 774.3,937.9 774.7,936.5 775.0,938.0 775.3,936.3 775.7,937.2 776.0,936.5 776.3,935.7 776.7,935.4 777.0,935.0 777.3,933.6 777.7,934.7 778.0,935.2 778.3,933.7 778.7,933.7 779.0,935.5 779.3,935.3 779.7,933.5 780.0,935.0 780.3,934.6 780.7,935.3 781.0,934.3 781.3,933.8 781.7,932.8 782.0,932.9 782.3,932.1 782.7,931.1 783.0,930.8 783.3,931.2 783.7,933.0 784.0,932.6 784.3,933.0 784.7,934.2 785.0,936.5 785.3,936.1 785.7,937.7 786.0,938.5 786.3,936.8 786.7,936.9 787.0,935.9 787.3,934.6 787.7,933.3 788.0,933.0 788.3,931.2 788.7,931.1 789.0,930.1 789.3,930.8 789.7,930.7 790.0,929.9 790.3,931.0 790.7,931.2 791.0,930.3 791.3,929.7 791.7,930.5 792.0,928.3 792.3,929.7 792.7,930.5 793.0,931.5 793.3,929.6 793.7,931.5 794.0,932.2 794.3,932.1 794.7,929.1 795.0,931.8 795.3,931.3 795.7,932.1 796.0,931.4 796.3,931.2 796.7,931.7 797.0,933.1 797.3,932.7 797.7,931.9 798.0,932.5 798.3,932.9 798.7,932.7 799.0,932.3 799.3,931.9 799.7,931.9 800.0,932.2 800.3,932.5 800.7,932.2 801.0,932.7 801.3,934.8 801.7,933.8 802.0,934.0 802.3,935.4 802.7,936.9 803.0,937.2 803.3,936.4 803.7,936.3 804.0,937.1 804.3,936.3 804.7,936.1 805.0,936.4 805.3,934.7 805.7,934.4 806.0,934.3 806.3,934.0 806.7,932.9 807.0,932.4 807.3,932.3 807.7,932.8 808.0,933.9 808.3,933.5 808.7,931.5 809.0,934.5 809.3,934.1 809.7,933.7 810.0,934.3 810.3,932.4 810.7,933.6 811.0,935.9 811.3,937.3 811.6,938.0 811.9,936.5 812.2,937.8 812.6,939.0 812.9,938.2 813.2,941.1 813.5,940.0 813.8,940.3 814.1,938.6 814.5,939.3 814.8,938.5 815.1,938.8 815.4,936.6 815.8,937.0 816.1,937.9 816.4,935.1 816.7,935.8 817.0,935.3 817.4,934.1 817.7,933.8 818.0,934.6 818.3,934.6 818.7,934.3 819.0,934.3 819.3,933.5 819.7,934.6 820.0,936.1 820.3,935.7 820.7,934.1 821.0,933.8 821.3,935.1 821.7,935.9 822.0,935.6 822.3,936.1 822.7,936.9 823.0,937.7 823.3,937.5 823.7,938.6 824.0,936.9 824.3,938.7 824.7,939.0 825.0,937.9 825.3,939.6 825.6,937.2 826.0,937.0 826.3,939.7 826.6,938.4 826.9,937.4 827.2,937.8 827.5,937.3 827.9,935.3 828.2,936.2 828.5,936.6 828.8,935.8 829.2,936.4 829.5,936.4 829.8,937.7 830.2,937.1 830.5,937.5 830.8,937.4 831.2,938.0 831.5,939.3 831.8,939.9 832.2,939.6 832.5,939.5 832.8,941.0 833.2,941.4 833.5,942.5 833.8,940.7 834.2,940.3 834.5,940.5 834.8,940.8 835.2,939.2 835.5,938.7 835.8,937.6 836.2,937.5 836.5,938.1 836.8,937.6 837.2,937.3 837.5,934.8 837.8,936.9 838.1,935.8 838.5,937.1 838.8,935.1 839.1,937.1 839.4,936.7 839.7,938.6 840.0,937.9 840.4,939.0 840.7,937.9 841.0,940.0 841.3,937.8 841.7,939.3 842.0,937.1 842.3,936.4 842.7,937.5 843.0,936.2 843.3,936.1 843.7,934.8 844.0,935.2 844.3,935.3 844.7,934.3 845.0,934.8 845.3,932.7 845.7,935.0 846.0,933.9 846.3,935.3 846.7,933.8 847.0,933.5 847.3,933.6 847.7,934.0 848.0,934.2 848.3,933.3 848.7,933.0 849.0,933.8 849.3,933.8 849.7,931.4 850.0,931.6 850.3,931.5 850.7,932.9 851.0,932.2 851.3,931.5 851.7,930.9 852.0,929.3 852.3,930.6 852.7,929.0 853.0,928.4 853.2,930.2 853.5,927.4 853.8,930.0 854.2,929.6 854.5,929.2 854.8,930.5 855.2,930.2 855.5,931.4 855.8,931.2 856.2,931.3 856.5,934.6 856.8,932.7 857.2,934.3 857.5,934.0 857.8,934.1 858.1,932.3 858.4,932.1 858.8,930.0 859.1,932.9 859.4,932.1 859.7,930.5 860.0,931.6 860.3,931.6 860.6,933.5 860.9,931.6 861.2,932.2 861.6,932.1 861.9,932.3 862.2,931.9 862.5,931.7 862.8,931.4 863.2,930.6 863.5,927.6 863.8,926.5 864.2,926.1 864.5,926.4 864.8,925.1 865.2,924.1 865.5,926.2 865.8,926.4 866.2,927.5 866.5,926.4 866.8,928.0 867.2,926.1 867.5,927.6 867.8,927.2 868.2,926.4 868.5,927.3 868.8,928.3 869.1,927.9 869.4,926.5 869.8,927.3 870.1,926.9 870.4,926.7 870.7,926.0 871.0,925.7 871.3,925.3 871.7,926.2 872.0,926.8 872.3,926.5 872.7,927.2 873.0,928.0 873.3,928.4 873.7,929.4 874.0,928.2 874.3,928.2 874.7,928.2 875.0,927.2 875.3,927.3 875.7,926.1 876.0,926.9 876.3,925.3 876.7,924.1 877.0,925.1 877.3,925.7 877.7,922.9 878.0,924.2 878.3,924.3 878.7,925.0 879.0,925.2 879.3,923.9 879.7,922.8 880.0,924.4 880.3,924.6 880.7,924.1 881.0,923.8 881.3,923.0 881.7,925.4 882.0,922.6 882.3,922.5 882.6,924.4 883.0,924.0 883.3,924.4 883.6,924.2 883.9,925.3 884.2,925.2 884.5,923.8 884.9,925.1 885.2,923.5 885.5,923.2 885.8,926.0 886.2,925.3 886.5,924.6 886.8,926.8 887.2,926.9 887.5,928.4 887.8,928.5 888.2,928.6 888.5,929.2 888.8,930.9 889.2,930.2 889.5,931.6 889.8,930.8 890.1,931.8 890.5,932.9 890.8,931.9 891.1,932.4 891.4,931.8 891.8,930.8 892.1,931.3 892.4,931.6 892.7,931.8 893.0,931.0 893.4,932.0 893.7,931.0 894.0,931.6 894.3,932.0 894.7,931.6 895.0,933.8 895.3,933.5 895.7,934.1 896.0,934.5 896.3,933.4 896.7,934.4 897.0,935.3 897.3,936.6 897.6,935.2 897.9,935.9 898.2,934.5 898.6,934.4 898.9,934.5 899.2,935.5 899.5,933.3 899.8,935.0 900.2,936.0 900.5,936.4 900.8,936.9 901.2,938.2 901.5,938.4 901.8,938.0 902.2,939.9 902.5,939.4 902.8,939.5 903.2,940.7 903.5,941.2 903.8,940.3 904.2,939.3 904.5,938.2 904.8,938.0 905.2,939.6 905.5,938.4 905.8,936.9 906.2,938.9 906.5,937.9 906.8,938.6 907.1,938.1 907.5,936.3 907.8,937.5 908.1,938.1 908.4,938.2 908.7,939.6 909.0,938.1 909.4,938.7 909.7,938.8 910.0,938.9 910.3,937.3 910.7,936.3 911.0,934.4 911.3,935.7 911.7,934.4 912.0,933.8 912.3,932.0 912.7,931.9 913.0,930.3 913.3,929.5 913.7,929.7 914.0,929.2 914.3,928.3 914.7,927.1 915.0,926.0 915.3,926.6 915.7,925.7 916.0,923.5 916.3,923.3 916.7,924.6 917.0,924.7 917.3,924.0 917.7,926.6 918.0,923.4 918.3,924.5 918.7,925.5 919.0,926.3 919.3,924.3 919.7,925.5 920.0,927.1 920.3,927.2 920.7,926.1 921.0,926.5 921.3,925.5 921.7,926.2 922.0,924.8 922.3,923.8 922.7,923.9 923.0,924.8 923.3,923.5 923.7,925.0 924.0,924.8 924.3,924.3 924.7,923.8 925.0,923.9 925.3,923.4 925.6,924.1 926.0,924.0 926.3,924.5 926.6,923.4 926.9,923.9 927.2,923.8 927.5,925.4 927.9,925.4 928.2,924.7 928.5,924.8 928.8,924.3 929.2,924.7 929.5,923.2 929.8,922.3 930.2,921.2 930.5,920.9 930.8,921.9 931.1,919.9 931.5,919.9 931.8,921.1 932.1,920.1 932.4,918.4 932.8,919.8 933.1,917.8 933.4,918.9 933.7,916.2 934.0,917.1 934.4,918.3 934.7,916.8 935.0,916.5 935.3,917.2 935.7,917.3 936.0,917.2 936.3,917.2 936.7,919.2 937.0,919.1 937.3,918.4 937.7,917.5 938.0,918.1 938.3,918.7 938.6,919.7 938.9,921.0 939.2,919.9 939.6,920.8 939.9,920.8 940.2,921.7 940.5,921.5 940.8,921.8 941.1,921.9 941.4,920.2 941.8,919.8 942.1,919.6 942.4,918.0 942.7,919.9 943.0,917.0 943.3,918.5 943.7,918.9 944.0,921.5 944.3,920.7 944.7,921.5 945.0,924.1 945.3,923.4 945.7,923.6 946.0,925.0 946.3,924.6 946.6,923.4 947.0,923.2 947.3,922.7 947.6,922.8 947.9,922.3 948.2,921.8 948.5,920.5 948.9,920.7 949.2,919.4 949.5,919.9 949.8,919.9 950.1,919.8 950.4,921.6 950.8,920.1 951.1,921.1 951.4,921.8 951.7,922.8 952.0,922.6 952.3,921.9 952.7,920.7 953.0,921.6 953.3,920.3 953.7,921.8 954.0,920.1 954.3,918.0 954.7,919.2 955.0,917.6 955.3,918.2 955.7,916.4 956.0,918.0 956.3,917.9 956.7,916.6 957.0,916.2 957.3,916.4 957.7,916.8 958.0,918.3 958.3,916.9 958.7,915.7 959.0,913.5 959.3,912.5 959.7,912.1 960.0,910.6 960.3,909.5 960.7,908.8 961.0,908.6 961.3,908.1 961.7,908.4 962.0,908.1 962.3,908.3 962.7,908.3 963.0,909.6 963.3,909.0 963.7,910.0 964.0,908.9 964.3,910.3 964.6,909.0 964.9,910.2 965.2,911.0 965.6,911.0 965.9,911.9 966.2,911.8 966.5,912.9 966.8,912.2 967.1,912.4 967.4,911.8 967.8,911.0 968.1,911.1 968.4,911.2 968.7,909.9 969.0,910.6 969.3,912.1 969.7,911.7 970.0,912.9 970.3,913.6 970.7,913.2 971.0,915.5 971.3,916.2 971.7,913.3 972.0,915.5 972.3,913.1 972.7,914.5 973.0,911.8 973.3,913.8 973.7,912.8 974.0,911.5 974.3,913.1 974.6,914.1 974.9,915.4 975.2,917.6 975.5,918.4 975.8,915.9 976.1,916.9 976.4,916.8 976.8,915.8 977.1,916.3 977.4,913.0 977.7,913.9 978.0,913.0 978.3,914.0 978.7,912.9 979.0,913.4 979.3,914.7 979.7,915.3 980.0,914.3 980.3,916.4 980.7,916.6 981.0,917.6 981.3,914.9 981.6,917.1 982.0,915.9 982.3,916.1 982.6,916.9 982.9,917.5 983.2,916.2 983.5,915.8 983.9,916.8 984.2,915.0 984.5,915.4 984.8,914.7 985.2,913.9 985.5,914.4 985.8,915.3 986.2,913.5 986.5,913.3 986.8,912.4 987.2,912.9 987.5,911.7 987.8,910.5 988.2,910.8 988.5,911.4 988.8,909.8 989.2,910.3 989.5,909.0 989.8,910.8 990.1,909.8 990.5,910.3 990.8,909.9 991.1,911.0 991.4,910.5 991.7,909.8 992.0,911.4 992.4,910.5 992.7,912.8 993.0,912.6 993.3,912.8 993.7,914.1 994.0,912.4 994.3,916.3 994.7,915.4 995.0,917.2 995.3,919.4 995.7,917.0 996.0,918.7 996.3,919.7 996.7,920.2 997.0,919.1 997.3,920.1 997.7,922.3 998.0,921.2 998.3,922.5 998.7,921.5 999.0,922.3 999.3,921.4 999.7,922.7 1000.0,923.1 1000.3,922.1 1000.7,921.5 1001.0,921.7 1001.3,921.6 1001.7,920.8 1002.0,921.2 1002.3,922.0 1002.7,921.9 1003.0,919.6 1003.3,918.8 1003.7,920.9 1004.0,919.9 1004.3,919.8 1004.7,919.1 1005.0,918.2 1005.3,918.8 1005.7,918.6 1006.0,918.4 1006.3,916.7 1006.7,918.4 1007.0,917.4 1007.3,917.4 1007.7,918.0 1008.0,917.5 1008.3,919.5 1008.7,918.3 1009.0,918.1 1009.3,917.8 1009.7,918.2 1010.0,917.8 1010.3,919.1 1010.7,920.0 1011.0,920.6 1011.3,919.7 1011.7,921.1 1012.0,922.1 1012.3,921.4 1012.7,923.0 1013.0,922.9 1013.3,923.6 1013.7,924.3 1014.0,924.0 1014.3,926.2 1014.7,926.3 1015.0,925.6 1015.3,926.9 1015.7,927.6 1016.0,926.9 1016.3,926.7 1016.7,926.9 1017.0,923.9 1017.3,924.3 1017.7,925.0 1018.0,924.6 1018.3,922.9 1018.7,923.7 1019.0,924.2 1019.3,923.2 1019.7,923.6 1020.0,924.2 1020.3,924.0 1020.7,925.7 1021.0,926.0 1021.3,927.0 1021.7,928.0 1022.0,927.5 1022.3,927.3 1022.6,927.0 1023.0,927.6 1023.3,924.8 1023.6,925.5 1023.9,924.7 1024.2,924.9 1024.6,925.0 1024.9,924.0 1025.2,924.1 1025.5,923.3 1025.9,922.3 1026.2,921.9 1026.5,921.0 1026.8,922.0 1027.1,921.4 1027.5,922.1 1027.8,922.0 1028.1,920.4 1028.4,920.1 1028.8,921.2 1029.1,919.9 1029.4,920.6 1029.7,920.7 1030.0,919.8 1030.4,921.2 1030.7,919.1 1031.0,919.8 1031.3,919.6 1031.7,918.1 1032.0,920.5 1032.3,920.9 1032.7,921.8 1033.0,921.7 1033.3,921.6 1033.7,922.1 1034.0,922.7 1034.3,923.8 1034.7,923.4 1035.0,924.9 1035.3,924.6 1035.7,923.2 1036.0,924.5 1036.3,921.9 1036.7,923.5 1037.0,922.7 1037.3,923.2 1037.7,924.1 1038.0,923.1 1038.3,922.9 1038.7,923.9 1039.0,922.2 1039.3,922.1 1039.7,923.3 1040.0,923.0 1040.3,922.1 1040.7,924.0 1041.0,925.1 1041.3,925.1 1041.7,925.5 1042.0,926.6 1042.3,927.3 1042.7,927.3 1043.0,929.1 1043.3,927.0 1043.6,927.7 1044.0,929.0 1044.3,926.3 1044.6,926.7 1044.9,924.7 1045.2,925.4 1045.6,924.8 1045.9,925.3 1046.2,924.6 1046.5,926.0 1046.9,923.5 1047.2,923.8 1047.5,923.7 1047.8,924.5 1048.1,925.2 1048.4,923.8 1048.8,927.2 1049.1,925.8 1049.4,926.0 1049.7,925.8 1050.0,927.2 1050.3,926.4 1050.7,928.0 1051.0,927.7 1051.3,928.6 1051.7,927.9 1052.0,928.8 1052.3,930.6 1052.7,930.0 1053.0,929.4 1053.3,928.8 1053.7,930.8 1054.0,928.6 1054.3,929.0 1054.7,931.3 1055.0,930.1 1055.3,932.3 1055.7,932.4 1056.0,934.4 1056.3,934.9 1056.7,934.7 1057.0,934.5 1057.3,935.7 1057.7,936.5 1058.0,935.8 1058.3,933.7 1058.7,935.8 1059.0,936.1 1059.3,936.5 1059.7,936.5 1060.0,937.9 1060.3,936.4 1060.6,938.0 1061.0,936.5 1061.3,936.6 1061.6,937.8 1061.9,938.3 1062.2,938.6 1062.5,939.0 1062.9,940.3 1063.2,940.6 1063.5,940.6 1063.8,940.5 1064.2,939.7 1064.5,939.4 1064.8,938.9 1065.2,939.6 1065.5,938.9 1065.8,939.4 1066.2,940.0 1066.5,939.8 1066.8,940.3 1067.2,938.4 1067.5,937.4 1067.8,937.5 1068.1,939.1 1068.4,937.5 1068.8,935.9 1069.1,936.6 1069.4,934.6 1069.7,935.4 1070.0,933.2 1070.3,933.2 1070.7,934.0 1071.0,932.6 1071.3,933.3 1071.7,934.8 1072.0,933.7 1072.3,932.5 1072.7,933.1 1073.0,933.2 1073.3,932.7 1073.7,933.5 1074.0,934.1 1074.3,933.2 1074.7,933.8 1075.0,933.3 1075.3,933.2 1075.7,932.5 1076.0,933.7 1076.3,933.9 1076.7,932.4 1077.0,931.9 1077.3,932.9 1077.7,932.4 1078.0,933.0 1078.3,932.4 1078.7,931.8 1079.0,930.8 1079.3,932.1 1079.7,931.6 1080.0,930.4 1080.3,930.1 1080.7,929.8 1081.0,931.5 1081.3,930.8 1081.7,928.7 1082.0,930.7 1082.3,931.0 1082.7,931.5 1083.0,931.7 1083.3,931.5 1083.7,932.4 1084.0,932.8 1084.3,931.4 1084.7,932.4 1085.0,930.7 1085.3,929.8 1085.7,930.2 1086.0,928.6 1086.3,929.1 1086.7,928.1 1087.0,928.2 1087.3,928.8 1087.6,926.9 1087.9,929.2 1088.2,929.2 1088.6,929.0 1088.9,929.8 1089.2,929.6 1089.5,929.2 1089.8,928.0 1090.2,928.5 1090.5,927.8 1090.8,925.4 1091.2,925.2 1091.5,924.1 1091.8,924.9 1092.2,923.1 1092.5,921.8 1092.8,923.1 1093.2,921.6 1093.5,920.7 1093.8,920.6 1094.1,920.2 1094.5,920.3 1094.8,920.8 1095.1,920.4 1095.4,919.6 1095.7,919.9 1096.0,921.2 1096.4,919.3 1096.7,918.6 1097.0,919.6 1097.3,919.3 1097.7,922.8 1098.0,922.0 1098.3,922.6 1098.7,923.1 1099.0,925.0 1099.3,922.8 1099.7,923.6 1100.0,922.5 1100.3,924.8 1100.7,923.9 1101.0,925.3 1101.3,923.9 1101.7,923.4 1102.0,923.7 1102.3,924.9 1102.7,923.8 1103.0,924.7 1103.3,923.8 1103.7,923.6 1104.0,923.6 1104.3,925.1 1104.7,922.9 1105.0,923.7 1105.3,923.9 1105.7,922.6 1106.0,921.9 1106.3,924.4 1106.6,924.8 1107.0,923.6 1107.3,923.2 1107.6,925.0 1107.9,924.6 1108.2,924.3 1108.5,924.9 1108.9,923.6 1109.2,925.1 1109.5,925.1 1109.8,924.7 1110.1,925.9 1110.5,925.4 1110.8,926.2 1111.1,922.6 1111.4,923.9 1111.7,923.4 1112.0,924.8 1112.4,924.3 1112.7,923.4 1113.0,923.1 1113.3,922.1 1113.7,922.0 1114.0,921.8 1114.3,919.9 1114.7,923.0 1115.0,921.8 1115.3,922.5 1115.7,921.6 1116.0,920.7 1116.3,920.7 1116.7,918.5 1117.0,918.7 1117.3,920.4 1117.7,919.6 1118.0,918.9 1118.3,920.4 1118.7,919.6 1119.0,920.8 1119.3,922.2 1119.7,920.4 1120.0,921.1 1120.3,921.2 1120.6,920.0 1120.9,919.4 1121.2,917.8 1121.6,917.5 1121.9,915.2 1122.2,916.1 1122.5,916.5 1122.8,914.7 1123.1,915.6 1123.5,916.3 1123.8,916.8 1124.1,916.9 1124.4,915.5 1124.8,915.9 1125.1,917.7 1125.4,916.1 1125.7,916.8 1126.0,916.0 1126.4,916.3 1126.7,914.6 1127.0,916.6 1127.3,915.8 1127.7,917.1 1128.0,917.6 1128.3,919.8 1128.7,919.9 1129.0,920.0 1129.3,919.8 1129.7,919.6 1130.0,921.5 1130.3,920.9 1130.7,921.9 1131.0,923.2 1131.3,922.1 1131.6,922.0 1132.0,921.0 1132.3,922.4 1132.6,921.7 1132.9,921.7 1133.2,922.1 1133.5,919.4 1133.9,920.5 1134.2,920.7 1134.5,920.2 1134.8,921.4 1135.1,922.7 1135.4,922.4 1135.8,924.7 1136.1,926.8 1136.4,927.1 1136.7,928.1 1137.0,930.1 1137.3,928.3 1137.7,930.1 1138.0,931.1 1138.3,930.0 1138.7,929.7 1139.0,930.9 1139.3,930.3 1139.7,930.2 1140.0,931.1 1140.3,929.9 1140.7,931.8 1141.0,930.6 1141.3,930.6 1141.7,931.2 1142.0,930.2 1142.3,929.9 1142.7,930.4 1143.0,930.0 1143.3,930.0 1143.7,927.6 1144.0,928.3 1144.3,925.9 1144.7,927.3 1145.0,927.3 1145.3,925.3 1145.7,925.8 1146.0,925.6 1146.3,924.9 1146.7,924.7 1147.0,926.4 1147.3,924.3 1147.7,925.5 1148.0,926.2 1148.3,925.7 1148.7,926.9 1149.0,926.9 1149.3,926.2 1149.7,927.2 1150.0,926.6 1150.3,925.2 1150.7,926.1 1151.0,926.7 1151.3,926.8 1151.7,925.5 1152.0,928.7 1152.3,926.5 1152.6,927.5 1152.9,929.4 1153.2,929.9 1153.6,931.6 1153.9,931.3 1154.2,932.1 1154.5,933.0 1154.8,931.3 1155.2,930.3 1155.5,930.3 1155.8,930.8 1156.2,929.2 1156.5,929.8 1156.8,927.8 1157.2,928.2 1157.5,927.0 1157.8,927.4 1158.1,926.5 1158.5,926.3 1158.8,925.6 1159.1,926.6 1159.4,925.4 1159.8,925.5 1160.1,925.4 1160.4,923.9 1160.7,923.7 1161.1,924.0 1161.4,924.8 1161.7,922.7 1162.0,922.5 1162.4,922.3 1162.7,922.5 1163.0,921.7 1163.3,922.2 1163.7,923.6 1164.0,922.7 1164.3,923.8 1164.7,923.3 1165.0,924.3 1165.3,925.2 1165.7,923.6 1166.0,925.5 1166.3,926.0 1166.7,926.1 1167.0,926.7 1167.3,926.8 1167.7,925.5 1168.0,926.4 1168.3,927.0 1168.7,927.5 1169.0,925.5 1169.3,926.0 1169.7,925.4 1170.0,926.5 1170.3,925.7 1170.7,925.7 1171.0,927.1 1171.3,928.4 1171.7,925.4 1172.0,928.4 1172.3,926.7 1172.7,928.1 1173.0,928.1 1173.3,929.0 1173.7,928.1 1174.0,927.9 1174.3,928.8 1174.6,929.8 1175.0,928.9 1175.3,930.3 1175.6,930.3 1175.9,930.8 1176.2,931.0 1176.5,931.9 1176.9,932.4 1177.2,931.9 1177.5,932.2 1177.8,929.9 1178.2,930.0 1178.5,928.6 1178.8,929.3 1179.2,927.1 1179.5,926.5 1179.8,926.5 1180.1,926.0 1180.4,925.3 1180.8,922.8 1181.1,922.8 1181.4,922.5 1181.7,920.2 1182.0,919.8 1182.3,919.2 1182.7,919.8 1183.0,921.0 1183.3,920.7 1183.7,920.5 1184.0,920.6 1184.3,922.3 1184.7,921.9 1185.0,920.6 1185.3,923.3 1185.7,921.5 1186.0,921.9 1186.3,921.0 1186.6,920.3 1186.9,920.6 1187.2,918.4 1187.6,918.9 1187.9,918.0 1188.2,918.9 1188.5,917.3 1188.8,917.3 1189.1,917.4 1189.5,917.4 1189.8,917.1 1190.1,915.1 1190.4,917.3 1190.7,916.7 1191.0,917.5 1191.4,917.2 1191.7,916.6 1192.0,916.3 1192.3,916.2 1192.7,917.2 1193.0,916.9 1193.3,916.3 1193.7,916.7 1194.0,917.3 1194.3,916.5 1194.7,916.9 1195.0,916.5 1195.3,915.0 1195.7,917.1 1196.0,917.0 1196.3,917.3 1196.7,917.4 1197.0,915.6 1197.3,916.3 1197.7,915.7 1198.0,915.3 1198.3,915.6 1198.7,915.3 1199.0,913.4 1199.3,915.2 1199.7,913.6 1200.0,913.0 1200.3,913.0 1200.7,913.4 1201.0,912.8 1201.3,914.5 1201.7,914.1 1202.0,913.1 1202.3,914.5 1202.7,914.1 1203.0,914.1 1203.3,914.6 1203.6,913.7 1204.0,913.5 1204.3,913.9 1204.6,912.1 1204.9,912.4 1205.2,913.6 1205.6,913.9 1205.9,911.8 1206.2,912.9 1206.5,912.3 1206.9,912.5 1207.2,913.1 1207.5,913.6 1207.8,914.0 1208.1,913.5 1208.5,913.4 1208.8,913.2 1209.1,911.8 1209.4,913.6 1209.8,912.6 1210.1,912.8 1210.4,913.9 1210.7,912.7 1211.0,915.4 1211.4,914.7 1211.7,914.6 1212.0,914.9 1212.3,915.3 1212.7,915.7 1213.0,916.8 1213.3,916.3 1213.7,917.6 1214.0,918.1 1214.3,919.0 1214.7,918.1 1215.0,919.5 1215.3,919.7 1215.7,920.7 1216.0,921.1 1216.3,921.2 1216.7,921.9 1217.0,922.3 1217.3,922.8 1217.7,921.7 1218.0,921.6 1218.3,920.3 1218.7,920.6 1219.0,921.1 1219.3,921.0 1219.7,919.3 1220.0,919.7 1220.3,919.3 1220.7,919.3 1221.0,918.6 1221.3,918.9 1221.6,919.4 1222.0,919.8 1222.3,920.7 1222.6,919.5 1222.9,919.6 1223.2,921.2 1223.5,921.2 1223.9,920.9 1224.2,920.4 1224.5,922.3 1224.8,921.0 1225.1,923.0 1225.5,922.6 1225.8,922.7 1226.1,923.0 1226.4,924.0 1226.7,923.7 1227.0,922.7 1227.4,923.8 1227.7,923.1 1228.0,925.3 1228.3,925.4 1228.7,925.3 1229.0,923.2 1229.3,925.6 1229.7,925.1 1230.0,923.4 1230.3,921.7 1230.7,922.3 1231.0,923.5 1231.3,924.0 1231.7,921.8 1232.0,920.6 1232.3,921.2 1232.7,923.4 1233.0,921.9 1233.3,920.8 1233.7,920.2 1234.0,922.2 1234.3,922.3 1234.7,921.3 1235.0,921.5 1235.3,921.6 1235.7,921.3 1236.0,921.1 1236.3,920.5 1236.7,919.9 1237.0,920.8 1237.3,919.6 1237.7,919.5 1238.0,919.5 1238.3,915.9 1238.7,917.0 1239.0,917.2 1239.3,916.1 1239.7,915.5 1240.0,916.0 1240.3,915.0 1240.7,914.5 1241.0,914.6 1241.3,914.6 1241.7,914.3 1242.0,914.7 1242.3,914.2 1242.7,914.1 1243.0,917.0 1243.3,914.7 1243.7,914.9 1244.0,915.2 1244.3,915.0 1244.7,914.6 1245.0,916.1 1245.3,916.6 1245.6,913.6 1246.0,913.9 1246.3,914.3 1246.6,913.0 1246.9,913.4 1247.2,912.5 1247.5,911.2 1247.9,911.3 1248.2,910.6 1248.5,910.9 1248.8,910.0 1249.1,913.6 1249.4,915.6 1249.8,916.1 1250.1,917.5 1250.4,918.3 1250.7,920.4 1251.0,921.4 1251.3,920.4 1251.7,920.3 1252.0,919.2 1252.3,921.2 1252.7,920.8 1253.0,921.3 1253.3,920.5 1253.7,920.7 1254.0,919.0 1254.3,918.4 1254.7,919.2 1255.0,919.2 1255.3,919.4 1255.6,918.7 1256.0,918.4 1256.3,918.2 1256.6,918.1 1256.9,917.7 1257.2,917.5 1257.6,916.5 1257.9,916.5 1258.2,915.2 1258.5,915.1 1258.9,915.4 1259.2,915.6 1259.5,914.4 1259.8,914.2 1260.2,916.3 1260.5,915.2 1260.8,914.8 1261.2,915.7 1261.5,915.8 1261.8,915.1 1262.2,916.9 1262.5,918.8 1262.8,917.8 1263.2,918.5 1263.5,920.9 1263.8,920.9 1264.2,921.6 1264.5,923.5 1264.8,921.7 1265.2,922.6 1265.5,923.1 1265.8,923.0 1266.2,922.0 1266.5,922.3 1266.8,924.4 1267.2,923.1 1267.5,923.0 1267.8,924.1 1268.2,922.1 1268.5,923.5 1268.8,921.7 1269.2,923.5 1269.5,921.2 1269.8,921.6 1270.2,920.3 1270.5,920.6 1270.8,921.3 1271.1,921.6 1271.4,921.9 1271.8,922.9 1272.1,923.1 1272.4,923.5 1272.7,924.9 1273.0,925.6 1273.3,923.7 1273.7,923.7 1274.0,923.5 1274.3,924.0 1274.7,922.5 1275.0,924.4 1275.3,923.0 1275.7,922.8 1276.0,923.0 1276.3,921.5 1276.7,922.1 1277.0,921.8 1277.3,922.3 1277.7,920.4 1278.0,922.0 1278.3,921.3 1278.7,920.9 1279.0,921.3 1279.3,920.1 1279.7,920.0 1280.0,920.6 1280.3,919.1 1280.7,919.5 1281.0,919.0 1281.3,917.5 1281.7,916.8 1282.0,915.5 1282.3,914.6 1282.7,915.7 1283.0,913.2 1283.3,913.4 1283.7,912.9 1284.0,911.3 1284.3,912.2 1284.7,912.9 1285.0,915.8 1285.3,915.2 1285.7,916.7 1286.0,917.9 1286.3,917.8 1286.7,918.8 1287.0,918.2 1287.3,918.4 1287.7,920.4 1288.0,920.8 1288.3,919.3 1288.7,921.3 1289.0,921.1 1289.3,921.8 1289.7,922.3 1290.0,923.4 1290.3,921.7 1290.7,922.3 1291.0,923.5 1291.3,922.5 1291.7,923.2 1292.0,923.0 1292.3,921.9 1292.7,922.9 1293.0,924.2 1293.3,923.3 1293.7,922.7 1294.0,923.6 1294.3,923.7 1294.7,923.5 1295.0,923.0 1295.3,922.7 1295.7,921.1 1296.0,921.1 1296.3,920.5 1296.7,920.3 1297.0,920.6 1297.3,920.8 1297.7,919.3 1298.0,919.8 1298.3,919.4 1298.7,917.2 1299.0,917.0 1299.3,917.3 1299.7,915.7 1300.0,917.7 1300.3,914.4 1300.7,914.4 1301.0,915.5 1301.3,913.9 1301.7,914.5 1302.0,912.8 1302.3,914.4 1302.7,913.3 1303.0,914.4 1303.3,914.8 1303.7,913.0 1304.0,913.6 1304.3,913.1 1304.7,913.7 1305.0,915.3 1305.3,914.7 1305.7,915.5 1306.0,916.1 1306.3,915.8 1306.6,915.7 1307.0,914.8 1307.3,914.9 1307.6,915.5 1307.9,915.9 1308.2,916.2 1308.5,915.6 1308.9,915.2 1309.2,915.4 1309.5,916.8 1309.8,915.4 1310.1,916.3 1310.5,913.9 1310.8,914.7 1311.1,913.9 1311.4,914.0 1311.8,912.5 1312.1,912.9 1312.4,912.3 1312.7,911.7 1313.0,910.7 1313.4,910.2 1313.7,910.6 1314.0,910.9 1314.3,911.1 1314.6,911.5 1314.9,911.9 1315.2,911.0 1315.6,913.2 1315.9,912.8 1316.2,912.6 1316.5,913.1 1316.8,915.0 1317.2,915.2 1317.5,914.5 1317.8,918.1 1318.2,916.2 1318.5,919.3 1318.8,918.8 1319.1,917.7 1319.4,919.5 1319.8,919.7 1320.1,919.7 1320.4,919.6 1320.7,919.6 1321.0,919.7 1321.3,919.5 1321.6,920.5 1322.0,921.6 1322.3,920.9 1322.6,922.8 1322.9,920.6 1323.2,922.1 1323.5,921.3 1323.9,921.5 1324.2,923.4 1324.5,923.3 1324.8,922.8 1325.1,922.1 1325.5,922.4 1325.8,921.0 1326.1,921.8 1326.4,921.2 1326.8,920.3 1327.1,921.3 1327.4,919.2 1327.7,920.6 1328.1,920.2 1328.4,920.0 1328.7,919.4 1329.0,919.6 1329.4,918.5 1329.7,917.5 1330.0,918.3 1330.3,917.9 1330.6,918.6 1331.0,919.3 1331.3,919.0 1331.6,920.8 1331.9,919.3 1332.2,921.8 1332.5,921.3 1332.9,923.3 1333.2,923.6 1333.5,924.0 1333.8,924.4 1334.1,925.0 1334.4,924.6 1334.7,926.0 1335.0,925.1 1335.4,924.6 1335.7,924.4 1336.0,923.3 1336.3,923.3 1336.6,922.4 1337.0,921.6 1337.3,921.6 1337.6,921.7 1337.9,920.5 1338.2,921.3 1338.5,923.8 1338.9,921.8 1339.2,922.2 1339.5,921.3 1339.8,922.8 1340.1,922.1 1340.4,920.3 1340.7,918.7 1341.0,917.7 1341.3,915.2 1341.6,915.9 1342.0,915.3 1342.3,915.9 1342.6,916.0 1342.9,916.0 1343.3,917.5 1343.6,916.7 1343.9,915.6 1344.2,916.6 1344.5,916.7 1344.9,916.3 1345.2,917.3 1345.5,916.0 1345.9,915.1 1346.2,915.6 1346.5,916.7 1346.8,915.7 1347.2,916.6 1347.5,915.4 1347.8,916.9 1348.1,917.2 1348.5,917.6 1348.8,918.8 1349.1,919.8 1349.4,921.6 1349.7,921.9 1350.0,922.5 1350.4,923.6 1350.7,923.9 1351.0,923.4 1351.4,924.2 1351.7,922.2 1352.0,923.1 1352.3,922.4 1352.7,921.6 1353.0,922.3 1353.3,922.3 1353.7,922.2 1354.0,921.7 1354.3,921.0 1354.6,922.1 1355.0,922.6 1355.3,923.8 1355.6,923.0 1355.9,923.4 1356.3,924.7 1356.6,923.9 1356.9,923.9 1357.2,924.7 1357.6,925.3 1357.9,925.1 1358.2,924.0 1358.6,925.2 1358.9,926.5 1359.2,925.5 1359.6,927.0 1359.9,926.7 1360.2,926.3 1360.5,927.7 1360.9,925.2 1361.2,924.9 1361.5,925.0 1361.9,926.2 1362.2,925.3 1362.5,925.6 1362.9,924.7 1363.2,924.6 1363.5,923.8 1363.9,923.5 1364.2,924.2 1364.5,923.3 1364.8,921.0 1365.1,921.7 1365.5,922.1 1365.8,920.4 1366.1,918.4 1366.4,918.9 1366.7,917.8 1367.0,917.5 1367.4,918.6 1367.7,918.9 1368.0,917.6 1368.3,918.2 1368.6,917.9 1369.0,918.3 1369.3,919.6 1369.6,918.2 1369.9,919.1 1370.3,919.1 1370.6,919.1 1370.9,918.4 1371.3,919.8 1371.6,918.7 1371.9,920.3 1372.2,919.8 1372.6,920.2 1372.9,919.9 1373.2,920.1 1373.6,920.5 1373.9,921.8 1374.2,922.3 1374.5,923.1 1374.8,923.2 1375.2,924.5 1375.5,924.5 1375.8,925.0 1376.1,924.1 1376.4,923.6 1376.8,923.4 1377.1,921.7 1377.4,920.7 1377.7,921.2 1378.0,920.5 1378.3,920.0 1378.6,919.9 1379.0,918.5 1379.3,918.5 1379.6,919.0 1379.9,918.7 1380.3,917.6 1380.6,918.6 1380.9,916.6 1381.2,919.2 1381.6,917.7 1381.9,918.3 1382.2,918.2 1382.6,918.2 1382.9,919.2 1383.2,918.3 1383.6,919.6 1383.9,920.2 1384.2,920.1 1384.5,920.6 1384.9,919.7 1385.2,919.6 1385.5,920.2 1385.9,922.1 1386.2,921.8 1386.5,920.4 1386.9,923.2 1387.2,922.6 1387.5,923.2 1387.9,923.3 1388.2,923.7 1388.5,922.2 1388.8,924.3 1389.1,924.4 1389.4,927.1 1389.7,926.9 1390.0,927.1 1390.3,927.7 1390.6,927.0 1391.0,929.4 1391.3,929.4 1391.6,931.8 1391.9,932.0 1392.2,932.2 1392.5,932.6 1392.9,933.7 1393.2,932.4 1393.5,933.5 1393.9,932.8 1394.2,932.4 1394.5,932.8 1394.9,933.8 1395.2,931.2 1395.5,932.9 1395.9,932.8 1396.2,932.0 1396.5,932.9 1396.8,932.0 1397.2,931.5 1397.5,930.0 1397.8,930.8 1398.1,929.1 1398.4,930.0 1398.8,930.9 1399.1,928.3 1399.4,930.4 1399.8,928.8 1400.1,930.0 1400.4,930.8 1400.7,929.5 1401.1,931.2 1401.4,930.7 1401.7,931.1 1402.1,932.5 1402.4,932.2 1402.7,932.9 1403.1,932.1 1403.4,931.8 1403.7,932.1 1404.0,930.5 1404.4,929.7 1404.7,929.4 1405.0,929.4 1405.4,928.7 1405.7,926.2 1406.0,927.2 1406.4,927.1 1406.7,929.2 1407.0,927.4 1407.4,928.2 1407.7,928.1 1408.0,929.5 1408.3,928.8 1408.7,930.1 1409.0,931.2 1409.3,930.7 1409.7,932.2 1410.0,932.4 1410.3,933.4 1410.6,933.1 1411.0,933.0 1411.3,931.1 1411.6,931.0 1411.9,931.8 1412.3,929.1 1412.6,930.3 1412.9,927.9 1413.2,929.8 1413.6,928.2 1413.9,929.5 1414.2,930.0 1414.5,930.4 1414.8,929.6 1415.2,931.5 1415.5,931.6 1415.8,933.3 1416.1,933.0 1416.5,931.2 1416.8,933.3 1417.1,934.3 1417.4,933.8 1417.8,933.6 1418.1,933.5 1418.4,934.5 1418.7,934.4 1419.0,935.8 1419.4,936.7 1419.7,938.9 1420.0,938.1 1420.3,940.0 1420.6,939.9 1420.9,941.9 1421.2,941.9 1421.6,940.3 1421.9,939.3 1422.2,939.7 1422.5,939.3 1422.8,938.3 1423.2,938.6 1423.5,937.8 1423.8,937.8 1424.1,936.4 1424.4,938.1 1424.8,938.5 1425.1,937.1 1425.4,939.3 1425.7,938.1 1426.0,937.1 1426.4,937.8 1426.7,938.6 1427.1,939.2 1427.5,940.2" fill="none" stroke="#ff7f0e" stroke-width="3.1" stroke-linejoin="round" stroke-linecap="round"/>

<rect x="207.84" y="153.75" width="1277.98" height="982.50" fill="none" stroke="#000" stroke-width="1.67"/>
<line x1="264.73" y1="1136.25" x2="264.73" y2="1143.95" stroke="#000" stroke-width="1.67"/>
<text x="259.91" y="1165.15" style="font-size:22.07px" textLength="12.68" lengthAdjust="spacingAndGlyphs">0</text>
<line x1="423.73" y1="1136.25" x2="423.73" y2="1143.95" stroke="#000" stroke-width="1.67"/>
<text x="404.10" y="1165.15" style="font-size:22.07px" textLength="37.58" lengthAdjust="spacingAndGlyphs">500</text>
<line x1="584.33" y1="1136.25" x2="584.33" y2="1143.95" stroke="#000" stroke-width="1.67"/>
<text x="557.63" y="1165.15" style="font-size:22.07px" textLength="51.57" lengthAdjust="spacingAndGlyphs">1000</text>
<line x1="743.33" y1="1136.25" x2="743.33" y2="1143.95" stroke="#000" stroke-width="1.67"/>
<text x="716.64" y="1165.15" style="font-size:22.07px" textLength="51.47" lengthAdjust="spacingAndGlyphs">1500</text>
<line x1="902.33" y1="1136.25" x2="902.33" y2="1143.95" stroke="#000" stroke-width="1.67"/>
<text x="875.71" y="1165.15" style="font-size:22.07px" textLength="52.72" lengthAdjust="spacingAndGlyphs">2000</text>
<line x1="1061.33" y1="1136.25" x2="1061.33" y2="1143.95" stroke="#000" stroke-width="1.67"/>
<text x="1034.40" y="1165.15" style="font-size:22.07px" textLength="53.03" lengthAdjust="spacingAndGlyphs">2500</text>
<line x1="1220.33" y1="1136.25" x2="1220.33" y2="1143.95" stroke="#000" stroke-width="1.67"/>
<text x="1194.33" y="1165.15" style="font-size:22.07px" textLength="50.55" lengthAdjust="spacingAndGlyphs">3000</text>
<line x1="1380.73" y1="1136.25" x2="1380.73" y2="1143.95" stroke="#000" stroke-width="1.67"/>
<text x="1353.64" y="1165.15" style="font-size:22.07px" textLength="50.24" lengthAdjust="spacingAndGlyphs">3500</text>
<line x1="200.14" y1="1086.73" x2="207.84" y2="1086.73" stroke="#000" stroke-width="1.67"/>
<text x="160.32" y="1094.88" style="font-size:22.07px" textLength="31.36" lengthAdjust="spacingAndGlyphs">0.0</text>
<line x1="200.14" y1="909.73" x2="207.84" y2="909.73" stroke="#000" stroke-width="1.67"/>
<text x="160.32" y="917.88" style="font-size:22.07px" textLength="31.31" lengthAdjust="spacingAndGlyphs">0.2</text>
<line x1="200.14" y1="732.73" x2="207.84" y2="732.73" stroke="#000" stroke-width="1.67"/>
<text x="160.33" y="740.88" style="font-size:22.07px" textLength="31.13" lengthAdjust="spacingAndGlyphs">0.4</text>
<line x1="200.14" y1="555.73" x2="207.84" y2="555.73" stroke="#000" stroke-width="1.67"/>
<text x="160.31" y="563.88" style="font-size:22.07px" textLength="31.59" lengthAdjust="spacingAndGlyphs">0.6</text>
<line x1="200.14" y1="378.73" x2="207.84" y2="378.73" stroke="#000" stroke-width="1.67"/>
<text x="160.31" y="386.88" style="font-size:22.07px" textLength="31.57" lengthAdjust="spacingAndGlyphs">0.8</text>
<line x1="200.14" y1="201.73" x2="207.84" y2="201.73" stroke="#000" stroke-width="1.67"/>
<text x="159.09" y="209.88" style="font-size:22.07px" textLength="31.19" lengthAdjust="spacingAndGlyphs">1.0</text>
<text x="826.65" y="140.60" style="font-size:26.5px" textLength="37.42" lengthAdjust="spacingAndGlyphs">SIS</text>
<rect x="1163.5" y="164.5" width="312" height="69" rx="4" ry="4" fill="#fff" fill-opacity="0.8" stroke="#d9d9d9" stroke-width="1.8"/>
<line x1="1169.9" y1="181.5" x2="1212.1" y2="181.5" stroke="#1f77b4" stroke-width="3.1" stroke-linecap="square"/>
<line x1="1169.9" y1="213.0" x2="1212.1" y2="213.0" stroke="#ff7f0e" stroke-width="3.1" stroke-linecap="square"/>
<text x="1228.34" y="187.50" style="font-size:22.07px" textLength="237.58" lengthAdjust="spacingAndGlyphs">Susceptible Population</text>
<text x="1227.71" y="218.90" style="font-size:22.07px" textLength="219.82" lengthAdjust="spacingAndGlyphs">Infectious Population</text>
</g>
</svg></div>
</body></html>
